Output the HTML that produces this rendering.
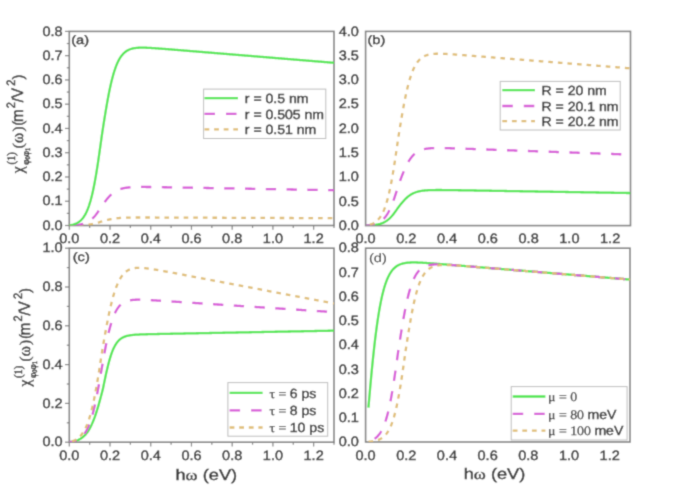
<!DOCTYPE html>
<html><head><meta charset="utf-8"><style>
html,body{margin:0;padding:0;background:#fff;}
svg{display:block;text-rendering:geometricPrecision;}
</style></head><body>
<svg width="685" height="489" viewBox="0 0 685 489">
<defs><filter id="bl" x="0" y="0" width="685" height="489" filterUnits="userSpaceOnUse"><feConvolveMatrix order="3" kernelMatrix="0.02768 0.11101 0.02768 0.11101 0.44521 0.11101 0.02768 0.11101 0.02768" edgeMode="duplicate"/></filter></defs>
<rect width="685" height="489" fill="#fff"/>
<g filter="url(#bl)">
<rect width="685" height="489" fill="#fff"/>
<rect x="69.30" y="31.40" width="264.70" height="194.10" fill="none" stroke="#808080" stroke-width="1.60"/>
<rect x="365.60" y="31.40" width="264.90" height="194.20" fill="none" stroke="#808080" stroke-width="1.60"/>
<rect x="69.30" y="248.20" width="264.70" height="194.00" fill="none" stroke="#808080" stroke-width="1.60"/>
<rect x="365.60" y="248.20" width="264.40" height="193.80" fill="none" stroke="#808080" stroke-width="1.60"/>
<line x1="69.30" y1="225.50" x2="69.30" y2="229.80" stroke="#808080" stroke-width="1.2"/>
<line x1="89.66" y1="225.50" x2="89.66" y2="228.00" stroke="#808080" stroke-width="1.2"/>
<line x1="110.02" y1="225.50" x2="110.02" y2="229.80" stroke="#808080" stroke-width="1.2"/>
<line x1="130.38" y1="225.50" x2="130.38" y2="228.00" stroke="#808080" stroke-width="1.2"/>
<line x1="150.75" y1="225.50" x2="150.75" y2="229.80" stroke="#808080" stroke-width="1.2"/>
<line x1="171.11" y1="225.50" x2="171.11" y2="228.00" stroke="#808080" stroke-width="1.2"/>
<line x1="191.47" y1="225.50" x2="191.47" y2="229.80" stroke="#808080" stroke-width="1.2"/>
<line x1="211.83" y1="225.50" x2="211.83" y2="228.00" stroke="#808080" stroke-width="1.2"/>
<line x1="232.19" y1="225.50" x2="232.19" y2="229.80" stroke="#808080" stroke-width="1.2"/>
<line x1="252.55" y1="225.50" x2="252.55" y2="228.00" stroke="#808080" stroke-width="1.2"/>
<line x1="272.92" y1="225.50" x2="272.92" y2="229.80" stroke="#808080" stroke-width="1.2"/>
<line x1="293.28" y1="225.50" x2="293.28" y2="228.00" stroke="#808080" stroke-width="1.2"/>
<line x1="313.64" y1="225.50" x2="313.64" y2="229.80" stroke="#808080" stroke-width="1.2"/>
<line x1="334.00" y1="225.50" x2="334.00" y2="228.00" stroke="#808080" stroke-width="1.2"/>
<line x1="65.00" y1="225.50" x2="69.30" y2="225.50" stroke="#808080" stroke-width="1.2"/>
<line x1="66.80" y1="213.37" x2="69.30" y2="213.37" stroke="#808080" stroke-width="1.2"/>
<line x1="65.00" y1="201.24" x2="69.30" y2="201.24" stroke="#808080" stroke-width="1.2"/>
<line x1="66.80" y1="189.11" x2="69.30" y2="189.11" stroke="#808080" stroke-width="1.2"/>
<line x1="65.00" y1="176.97" x2="69.30" y2="176.97" stroke="#808080" stroke-width="1.2"/>
<line x1="66.80" y1="164.84" x2="69.30" y2="164.84" stroke="#808080" stroke-width="1.2"/>
<line x1="65.00" y1="152.71" x2="69.30" y2="152.71" stroke="#808080" stroke-width="1.2"/>
<line x1="66.80" y1="140.58" x2="69.30" y2="140.58" stroke="#808080" stroke-width="1.2"/>
<line x1="65.00" y1="128.45" x2="69.30" y2="128.45" stroke="#808080" stroke-width="1.2"/>
<line x1="66.80" y1="116.32" x2="69.30" y2="116.32" stroke="#808080" stroke-width="1.2"/>
<line x1="65.00" y1="104.19" x2="69.30" y2="104.19" stroke="#808080" stroke-width="1.2"/>
<line x1="66.80" y1="92.06" x2="69.30" y2="92.06" stroke="#808080" stroke-width="1.2"/>
<line x1="65.00" y1="79.93" x2="69.30" y2="79.93" stroke="#808080" stroke-width="1.2"/>
<line x1="66.80" y1="67.79" x2="69.30" y2="67.79" stroke="#808080" stroke-width="1.2"/>
<line x1="65.00" y1="55.66" x2="69.30" y2="55.66" stroke="#808080" stroke-width="1.2"/>
<line x1="66.80" y1="43.53" x2="69.30" y2="43.53" stroke="#808080" stroke-width="1.2"/>
<line x1="65.00" y1="31.40" x2="69.30" y2="31.40" stroke="#808080" stroke-width="1.2"/>
<line x1="69.30" y1="442.20" x2="69.30" y2="446.50" stroke="#808080" stroke-width="1.2"/>
<line x1="89.66" y1="442.20" x2="89.66" y2="444.70" stroke="#808080" stroke-width="1.2"/>
<line x1="110.02" y1="442.20" x2="110.02" y2="446.50" stroke="#808080" stroke-width="1.2"/>
<line x1="130.38" y1="442.20" x2="130.38" y2="444.70" stroke="#808080" stroke-width="1.2"/>
<line x1="150.75" y1="442.20" x2="150.75" y2="446.50" stroke="#808080" stroke-width="1.2"/>
<line x1="171.11" y1="442.20" x2="171.11" y2="444.70" stroke="#808080" stroke-width="1.2"/>
<line x1="191.47" y1="442.20" x2="191.47" y2="446.50" stroke="#808080" stroke-width="1.2"/>
<line x1="211.83" y1="442.20" x2="211.83" y2="444.70" stroke="#808080" stroke-width="1.2"/>
<line x1="232.19" y1="442.20" x2="232.19" y2="446.50" stroke="#808080" stroke-width="1.2"/>
<line x1="252.55" y1="442.20" x2="252.55" y2="444.70" stroke="#808080" stroke-width="1.2"/>
<line x1="272.92" y1="442.20" x2="272.92" y2="446.50" stroke="#808080" stroke-width="1.2"/>
<line x1="293.28" y1="442.20" x2="293.28" y2="444.70" stroke="#808080" stroke-width="1.2"/>
<line x1="313.64" y1="442.20" x2="313.64" y2="446.50" stroke="#808080" stroke-width="1.2"/>
<line x1="334.00" y1="442.20" x2="334.00" y2="444.70" stroke="#808080" stroke-width="1.2"/>
<line x1="65.00" y1="442.20" x2="69.30" y2="442.20" stroke="#808080" stroke-width="1.2"/>
<line x1="66.80" y1="422.80" x2="69.30" y2="422.80" stroke="#808080" stroke-width="1.2"/>
<line x1="65.00" y1="403.40" x2="69.30" y2="403.40" stroke="#808080" stroke-width="1.2"/>
<line x1="66.80" y1="384.00" x2="69.30" y2="384.00" stroke="#808080" stroke-width="1.2"/>
<line x1="65.00" y1="364.60" x2="69.30" y2="364.60" stroke="#808080" stroke-width="1.2"/>
<line x1="66.80" y1="345.20" x2="69.30" y2="345.20" stroke="#808080" stroke-width="1.2"/>
<line x1="65.00" y1="325.80" x2="69.30" y2="325.80" stroke="#808080" stroke-width="1.2"/>
<line x1="66.80" y1="306.40" x2="69.30" y2="306.40" stroke="#808080" stroke-width="1.2"/>
<line x1="65.00" y1="287.00" x2="69.30" y2="287.00" stroke="#808080" stroke-width="1.2"/>
<line x1="66.80" y1="267.60" x2="69.30" y2="267.60" stroke="#808080" stroke-width="1.2"/>
<line x1="65.00" y1="248.20" x2="69.30" y2="248.20" stroke="#808080" stroke-width="1.2"/>
<text transform="translate(69.30,243.33) scale(1.075,1)" text-anchor="middle" font-family="Liberation Sans" font-size="13.50" font-weight="normal" fill="#363636" stroke="#363636" stroke-width="0.45">0.0</text>
<text transform="translate(110.02,243.33) scale(1.075,1)" text-anchor="middle" font-family="Liberation Sans" font-size="13.50" font-weight="normal" fill="#363636" stroke="#363636" stroke-width="0.45">0.2</text>
<text transform="translate(150.75,243.33) scale(1.075,1)" text-anchor="middle" font-family="Liberation Sans" font-size="13.50" font-weight="normal" fill="#363636" stroke="#363636" stroke-width="0.45">0.4</text>
<text transform="translate(191.47,243.33) scale(1.075,1)" text-anchor="middle" font-family="Liberation Sans" font-size="13.50" font-weight="normal" fill="#363636" stroke="#363636" stroke-width="0.45">0.6</text>
<text transform="translate(232.19,243.33) scale(1.075,1)" text-anchor="middle" font-family="Liberation Sans" font-size="13.50" font-weight="normal" fill="#363636" stroke="#363636" stroke-width="0.45">0.8</text>
<text transform="translate(272.92,243.33) scale(1.075,1)" text-anchor="middle" font-family="Liberation Sans" font-size="13.50" font-weight="normal" fill="#363636" stroke="#363636" stroke-width="0.45">1.0</text>
<text transform="translate(313.64,243.33) scale(1.075,1)" text-anchor="middle" font-family="Liberation Sans" font-size="13.50" font-weight="normal" fill="#363636" stroke="#363636" stroke-width="0.45">1.2</text>
<text transform="translate(62.60,229.73) scale(1.075,1)" text-anchor="end" font-family="Liberation Sans" font-size="13.50" font-weight="normal" fill="#363636" stroke="#363636" stroke-width="0.45">0.0</text>
<text transform="translate(62.60,205.47) scale(1.075,1)" text-anchor="end" font-family="Liberation Sans" font-size="13.50" font-weight="normal" fill="#363636" stroke="#363636" stroke-width="0.45">0.1</text>
<text transform="translate(62.60,181.21) scale(1.075,1)" text-anchor="end" font-family="Liberation Sans" font-size="13.50" font-weight="normal" fill="#363636" stroke="#363636" stroke-width="0.45">0.2</text>
<text transform="translate(62.60,156.95) scale(1.075,1)" text-anchor="end" font-family="Liberation Sans" font-size="13.50" font-weight="normal" fill="#363636" stroke="#363636" stroke-width="0.45">0.3</text>
<text transform="translate(62.60,132.68) scale(1.075,1)" text-anchor="end" font-family="Liberation Sans" font-size="13.50" font-weight="normal" fill="#363636" stroke="#363636" stroke-width="0.45">0.4</text>
<text transform="translate(62.60,108.42) scale(1.075,1)" text-anchor="end" font-family="Liberation Sans" font-size="13.50" font-weight="normal" fill="#363636" stroke="#363636" stroke-width="0.45">0.5</text>
<text transform="translate(62.60,84.16) scale(1.075,1)" text-anchor="end" font-family="Liberation Sans" font-size="13.50" font-weight="normal" fill="#363636" stroke="#363636" stroke-width="0.45">0.6</text>
<text transform="translate(62.60,59.90) scale(1.075,1)" text-anchor="end" font-family="Liberation Sans" font-size="13.50" font-weight="normal" fill="#363636" stroke="#363636" stroke-width="0.45">0.7</text>
<text transform="translate(62.60,35.63) scale(1.075,1)" text-anchor="end" font-family="Liberation Sans" font-size="13.50" font-weight="normal" fill="#363636" stroke="#363636" stroke-width="0.45">0.8</text>
<text transform="translate(365.60,243.43) scale(1.075,1)" text-anchor="middle" font-family="Liberation Sans" font-size="13.50" font-weight="normal" fill="#363636" stroke="#363636" stroke-width="0.45">0.0</text>
<text transform="translate(406.35,243.43) scale(1.075,1)" text-anchor="middle" font-family="Liberation Sans" font-size="13.50" font-weight="normal" fill="#363636" stroke="#363636" stroke-width="0.45">0.2</text>
<text transform="translate(447.11,243.43) scale(1.075,1)" text-anchor="middle" font-family="Liberation Sans" font-size="13.50" font-weight="normal" fill="#363636" stroke="#363636" stroke-width="0.45">0.4</text>
<text transform="translate(487.86,243.43) scale(1.075,1)" text-anchor="middle" font-family="Liberation Sans" font-size="13.50" font-weight="normal" fill="#363636" stroke="#363636" stroke-width="0.45">0.6</text>
<text transform="translate(528.62,243.43) scale(1.075,1)" text-anchor="middle" font-family="Liberation Sans" font-size="13.50" font-weight="normal" fill="#363636" stroke="#363636" stroke-width="0.45">0.8</text>
<text transform="translate(569.37,243.43) scale(1.075,1)" text-anchor="middle" font-family="Liberation Sans" font-size="13.50" font-weight="normal" fill="#363636" stroke="#363636" stroke-width="0.45">1.0</text>
<text transform="translate(610.12,243.43) scale(1.075,1)" text-anchor="middle" font-family="Liberation Sans" font-size="13.50" font-weight="normal" fill="#363636" stroke="#363636" stroke-width="0.45">1.2</text>
<text transform="translate(358.90,229.83) scale(1.075,1)" text-anchor="end" font-family="Liberation Sans" font-size="13.50" font-weight="normal" fill="#363636" stroke="#363636" stroke-width="0.45">0.0</text>
<text transform="translate(358.90,205.56) scale(1.075,1)" text-anchor="end" font-family="Liberation Sans" font-size="13.50" font-weight="normal" fill="#363636" stroke="#363636" stroke-width="0.45">0.5</text>
<text transform="translate(358.90,181.28) scale(1.075,1)" text-anchor="end" font-family="Liberation Sans" font-size="13.50" font-weight="normal" fill="#363636" stroke="#363636" stroke-width="0.45">1.0</text>
<text transform="translate(358.90,157.01) scale(1.075,1)" text-anchor="end" font-family="Liberation Sans" font-size="13.50" font-weight="normal" fill="#363636" stroke="#363636" stroke-width="0.45">1.5</text>
<text transform="translate(358.90,132.73) scale(1.075,1)" text-anchor="end" font-family="Liberation Sans" font-size="13.50" font-weight="normal" fill="#363636" stroke="#363636" stroke-width="0.45">2.0</text>
<text transform="translate(358.90,108.46) scale(1.075,1)" text-anchor="end" font-family="Liberation Sans" font-size="13.50" font-weight="normal" fill="#363636" stroke="#363636" stroke-width="0.45">2.5</text>
<text transform="translate(358.90,84.18) scale(1.075,1)" text-anchor="end" font-family="Liberation Sans" font-size="13.50" font-weight="normal" fill="#363636" stroke="#363636" stroke-width="0.45">3.0</text>
<text transform="translate(358.90,59.91) scale(1.075,1)" text-anchor="end" font-family="Liberation Sans" font-size="13.50" font-weight="normal" fill="#363636" stroke="#363636" stroke-width="0.45">3.5</text>
<text transform="translate(358.90,35.63) scale(1.075,1)" text-anchor="end" font-family="Liberation Sans" font-size="13.50" font-weight="normal" fill="#363636" stroke="#363636" stroke-width="0.45">4.0</text>
<text transform="translate(69.30,460.03) scale(1.075,1)" text-anchor="middle" font-family="Liberation Sans" font-size="13.50" font-weight="normal" fill="#363636" stroke="#363636" stroke-width="0.45">0.0</text>
<text transform="translate(110.02,460.03) scale(1.075,1)" text-anchor="middle" font-family="Liberation Sans" font-size="13.50" font-weight="normal" fill="#363636" stroke="#363636" stroke-width="0.45">0.2</text>
<text transform="translate(150.75,460.03) scale(1.075,1)" text-anchor="middle" font-family="Liberation Sans" font-size="13.50" font-weight="normal" fill="#363636" stroke="#363636" stroke-width="0.45">0.4</text>
<text transform="translate(191.47,460.03) scale(1.075,1)" text-anchor="middle" font-family="Liberation Sans" font-size="13.50" font-weight="normal" fill="#363636" stroke="#363636" stroke-width="0.45">0.6</text>
<text transform="translate(232.19,460.03) scale(1.075,1)" text-anchor="middle" font-family="Liberation Sans" font-size="13.50" font-weight="normal" fill="#363636" stroke="#363636" stroke-width="0.45">0.8</text>
<text transform="translate(272.92,460.03) scale(1.075,1)" text-anchor="middle" font-family="Liberation Sans" font-size="13.50" font-weight="normal" fill="#363636" stroke="#363636" stroke-width="0.45">1.0</text>
<text transform="translate(313.64,460.03) scale(1.075,1)" text-anchor="middle" font-family="Liberation Sans" font-size="13.50" font-weight="normal" fill="#363636" stroke="#363636" stroke-width="0.45">1.2</text>
<text transform="translate(62.60,446.43) scale(1.075,1)" text-anchor="end" font-family="Liberation Sans" font-size="13.50" font-weight="normal" fill="#363636" stroke="#363636" stroke-width="0.45">0.0</text>
<text transform="translate(62.60,407.63) scale(1.075,1)" text-anchor="end" font-family="Liberation Sans" font-size="13.50" font-weight="normal" fill="#363636" stroke="#363636" stroke-width="0.45">0.2</text>
<text transform="translate(62.60,368.83) scale(1.075,1)" text-anchor="end" font-family="Liberation Sans" font-size="13.50" font-weight="normal" fill="#363636" stroke="#363636" stroke-width="0.45">0.4</text>
<text transform="translate(62.60,330.03) scale(1.075,1)" text-anchor="end" font-family="Liberation Sans" font-size="13.50" font-weight="normal" fill="#363636" stroke="#363636" stroke-width="0.45">0.6</text>
<text transform="translate(62.60,291.23) scale(1.075,1)" text-anchor="end" font-family="Liberation Sans" font-size="13.50" font-weight="normal" fill="#363636" stroke="#363636" stroke-width="0.45">0.8</text>
<text transform="translate(62.60,252.43) scale(1.075,1)" text-anchor="end" font-family="Liberation Sans" font-size="13.50" font-weight="normal" fill="#363636" stroke="#363636" stroke-width="0.45">1.0</text>
<text transform="translate(365.60,459.83) scale(1.075,1)" text-anchor="middle" font-family="Liberation Sans" font-size="13.50" font-weight="normal" fill="#363636" stroke="#363636" stroke-width="0.45">0.0</text>
<text transform="translate(406.28,459.83) scale(1.075,1)" text-anchor="middle" font-family="Liberation Sans" font-size="13.50" font-weight="normal" fill="#363636" stroke="#363636" stroke-width="0.45">0.2</text>
<text transform="translate(446.95,459.83) scale(1.075,1)" text-anchor="middle" font-family="Liberation Sans" font-size="13.50" font-weight="normal" fill="#363636" stroke="#363636" stroke-width="0.45">0.4</text>
<text transform="translate(487.63,459.83) scale(1.075,1)" text-anchor="middle" font-family="Liberation Sans" font-size="13.50" font-weight="normal" fill="#363636" stroke="#363636" stroke-width="0.45">0.6</text>
<text transform="translate(528.31,459.83) scale(1.075,1)" text-anchor="middle" font-family="Liberation Sans" font-size="13.50" font-weight="normal" fill="#363636" stroke="#363636" stroke-width="0.45">0.8</text>
<text transform="translate(568.98,459.83) scale(1.075,1)" text-anchor="middle" font-family="Liberation Sans" font-size="13.50" font-weight="normal" fill="#363636" stroke="#363636" stroke-width="0.45">1.0</text>
<text transform="translate(609.66,459.83) scale(1.075,1)" text-anchor="middle" font-family="Liberation Sans" font-size="13.50" font-weight="normal" fill="#363636" stroke="#363636" stroke-width="0.45">1.2</text>
<text transform="translate(358.90,446.23) scale(1.075,1)" text-anchor="end" font-family="Liberation Sans" font-size="13.50" font-weight="normal" fill="#363636" stroke="#363636" stroke-width="0.45">0.0</text>
<text transform="translate(358.90,422.01) scale(1.075,1)" text-anchor="end" font-family="Liberation Sans" font-size="13.50" font-weight="normal" fill="#363636" stroke="#363636" stroke-width="0.45">0.1</text>
<text transform="translate(358.90,397.78) scale(1.075,1)" text-anchor="end" font-family="Liberation Sans" font-size="13.50" font-weight="normal" fill="#363636" stroke="#363636" stroke-width="0.45">0.2</text>
<text transform="translate(358.90,373.56) scale(1.075,1)" text-anchor="end" font-family="Liberation Sans" font-size="13.50" font-weight="normal" fill="#363636" stroke="#363636" stroke-width="0.45">0.3</text>
<text transform="translate(358.90,349.33) scale(1.075,1)" text-anchor="end" font-family="Liberation Sans" font-size="13.50" font-weight="normal" fill="#363636" stroke="#363636" stroke-width="0.45">0.4</text>
<text transform="translate(358.90,325.11) scale(1.075,1)" text-anchor="end" font-family="Liberation Sans" font-size="13.50" font-weight="normal" fill="#363636" stroke="#363636" stroke-width="0.45">0.5</text>
<text transform="translate(358.90,300.88) scale(1.075,1)" text-anchor="end" font-family="Liberation Sans" font-size="13.50" font-weight="normal" fill="#363636" stroke="#363636" stroke-width="0.45">0.6</text>
<text transform="translate(358.90,276.66) scale(1.075,1)" text-anchor="end" font-family="Liberation Sans" font-size="13.50" font-weight="normal" fill="#363636" stroke="#363636" stroke-width="0.45">0.7</text>
<text transform="translate(358.90,252.43) scale(1.075,1)" text-anchor="end" font-family="Liberation Sans" font-size="13.50" font-weight="normal" fill="#363636" stroke="#363636" stroke-width="0.45">0.8</text>
<text transform="translate(71.20,44.40) scale(1.200,1)" text-anchor="start" font-family="Liberation Sans" font-size="12.20" font-weight="normal" fill="#363636" stroke="#363636" stroke-width="0.45">(a)</text>
<text transform="translate(367.40,44.20) scale(1.200,1)" text-anchor="start" font-family="Liberation Sans" font-size="12.20" font-weight="normal" fill="#363636" stroke="#363636" stroke-width="0.45">(b)</text>
<text transform="translate(72.70,261.00) scale(1.200,1)" text-anchor="start" font-family="Liberation Sans" font-size="12.20" font-weight="normal" fill="#363636" stroke="#363636" stroke-width="0.45">(c)</text>
<text transform="translate(368.90,262.20) scale(1.200,1)" text-anchor="start" font-family="Liberation Sans" font-size="12.20" font-weight="normal" fill="#363636" stroke="#363636" stroke-width="0.12">(d)</text>
<clipPath id="ca"><rect x="69.30" y="29.40" width="264.70" height="196.10"/></clipPath>
<clipPath id="cb"><rect x="365.60" y="29.40" width="264.90" height="196.20"/></clipPath>
<clipPath id="cc"><rect x="69.30" y="246.20" width="264.70" height="196.00"/></clipPath>
<clipPath id="cd"><rect x="365.60" y="246.20" width="264.40" height="195.80"/></clipPath>
<g clip-path="url(#ca)">
<path d="M69.30,225.50L69.96,225.49L70.62,225.49L71.29,225.48L71.95,225.48L72.61,225.47L73.27,225.46L73.93,225.45L74.59,225.44L75.26,225.43L75.92,225.42L76.58,225.40L77.24,225.39L77.90,225.37L78.56,225.35L79.23,225.33L79.89,225.31L80.55,225.28L81.21,225.25L81.87,225.22L82.53,225.19L83.20,225.15L83.86,225.11L84.52,225.06L85.18,225.01L85.84,224.95L86.51,224.89L87.17,224.83L87.83,224.75L88.49,224.68L89.15,224.59L89.81,224.50L90.48,224.40L91.14,224.29L91.80,224.17L92.46,224.05L93.12,223.91L93.78,223.77L94.45,223.62L95.11,223.46L95.77,223.29L96.43,223.11L97.09,222.93L97.76,222.74L98.42,222.54L99.08,222.34L99.74,222.13L100.40,221.91L101.06,221.70L101.73,221.48L102.39,221.29L103.05,221.09L103.71,220.90L104.37,220.72L105.03,220.53L105.70,220.35L106.36,220.18L107.02,220.01L107.68,219.84L108.34,219.68L109.00,219.53L109.67,219.38L110.33,219.25L110.99,219.11L111.65,218.99L112.31,218.87L112.98,218.76L113.64,218.66L114.30,218.56L114.96,218.47L115.62,218.39L116.28,218.31L116.95,218.23L117.61,218.17L118.27,218.10L118.93,218.05L119.59,217.99L120.25,217.95L120.92,217.90L121.58,217.86L122.24,217.82L122.90,217.79L123.56,217.76L124.23,217.73L124.89,217.70L125.55,217.68L126.21,217.66L126.87,217.64L127.53,217.62L128.20,217.61L128.86,217.59L129.52,217.58L130.18,217.57L130.84,217.56L131.50,217.55L132.17,217.54L132.83,217.53L133.49,217.53L134.15,217.52L134.81,217.52L135.47,217.51L136.14,217.51L136.80,217.51L137.46,217.50L138.12,217.50L138.78,217.50L139.45,217.50L140.11,217.50L140.77,217.50L141.43,217.50L142.09,217.50L142.75,217.50L143.42,217.50L144.08,217.50L144.74,217.50L145.40,217.50L146.06,217.50L146.72,217.50L147.39,217.50L148.05,217.50L148.71,217.51L149.37,217.51L150.03,217.51L150.70,217.51L151.36,217.51L152.02,217.51L152.68,217.52L153.34,217.52L154.00,217.52L154.67,217.52L155.33,217.52L155.99,217.53L156.65,217.53L157.31,217.53L157.97,217.53L158.64,217.53L159.30,217.54L159.96,217.54L160.62,217.54L161.28,217.54L161.94,217.55L162.61,217.55L163.27,217.55L163.93,217.55L164.59,217.55L165.25,217.56L165.92,217.56L166.58,217.56L167.24,217.56L167.90,217.57L168.56,217.57L169.22,217.57L169.89,217.57L170.55,217.58L171.21,217.58L171.87,217.58L172.53,217.58L173.19,217.59L173.86,217.59L174.52,217.59L175.18,217.59L175.84,217.60L176.50,217.60L177.17,217.60L177.83,217.60L178.49,217.61L179.15,217.61L179.81,217.61L180.47,217.61L181.14,217.61L181.80,217.62L182.46,217.62L183.12,217.62L183.78,217.62L184.44,217.63L185.11,217.63L185.77,217.63L186.43,217.63L187.09,217.64L187.75,217.64L188.41,217.64L189.08,217.64L189.74,217.65L190.40,217.65L191.06,217.65L191.72,217.65L192.39,217.66L193.05,217.66L193.71,217.66L194.37,217.66L195.03,217.67L195.69,217.67L196.36,217.67L197.02,217.67L197.68,217.68L198.34,217.68L199.00,217.68L199.66,217.68L200.33,217.69L200.99,217.69L201.65,217.69L202.31,217.69L202.97,217.70L203.64,217.70L204.30,217.70L204.96,217.70L205.62,217.71L206.28,217.71L206.94,217.71L207.61,217.71L208.27,217.71L208.93,217.72L209.59,217.72L210.25,217.72L210.91,217.72L211.58,217.73L212.24,217.73L212.90,217.73L213.56,217.73L214.22,217.74L214.88,217.74L215.55,217.74L216.21,217.74L216.87,217.75L217.53,217.75L218.19,217.75L218.86,217.75L219.52,217.76L220.18,217.76L220.84,217.76L221.50,217.76L222.16,217.77L222.83,217.77L223.49,217.77L224.15,217.77L224.81,217.78L225.47,217.78L226.13,217.78L226.80,217.78L227.46,217.79L228.12,217.79L228.78,217.79L229.44,217.79L230.11,217.80L230.77,217.80L231.43,217.80L232.09,217.80L232.75,217.81L233.41,217.81L234.08,217.81L234.74,217.81L235.40,217.81L236.06,217.82L236.72,217.82L237.38,217.82L238.05,217.82L238.71,217.83L239.37,217.83L240.03,217.83L240.69,217.83L241.35,217.84L242.02,217.84L242.68,217.84L243.34,217.84L244.00,217.85L244.66,217.85L245.33,217.85L245.99,217.85L246.65,217.86L247.31,217.86L247.97,217.86L248.63,217.86L249.30,217.87L249.96,217.87L250.62,217.87L251.28,217.87L251.94,217.88L252.60,217.88L253.27,217.88L253.93,217.88L254.59,217.89L255.25,217.89L255.91,217.89L256.58,217.89L257.24,217.90L257.90,217.90L258.56,217.90L259.22,217.90L259.88,217.91L260.55,217.91L261.21,217.91L261.87,217.91L262.53,217.92L263.19,217.92L263.85,217.92L264.52,217.92L265.18,217.92L265.84,217.93L266.50,217.93L267.16,217.93L267.82,217.93L268.49,217.94L269.15,217.94L269.81,217.94L270.47,217.94L271.13,217.95L271.80,217.95L272.46,217.95L273.12,217.95L273.78,217.96L274.44,217.96L275.10,217.96L275.77,217.96L276.43,217.97L277.09,217.97L277.75,217.97L278.41,217.97L279.07,217.98L279.74,217.98L280.40,217.98L281.06,217.98L281.72,217.99L282.38,217.99L283.05,217.99L283.71,217.99L284.37,218.00L285.03,218.00L285.69,218.00L286.35,218.00L287.02,218.01L287.68,218.01L288.34,218.01L289.00,218.01L289.66,218.02L290.32,218.02L290.99,218.02L291.65,218.02L292.31,218.02L292.97,218.03L293.63,218.03L294.29,218.03L294.96,218.03L295.62,218.04L296.28,218.04L296.94,218.04L297.60,218.04L298.27,218.05L298.93,218.05L299.59,218.05L300.25,218.05L300.91,218.06L301.57,218.06L302.24,218.06L302.90,218.06L303.56,218.07L304.22,218.07L304.88,218.07L305.54,218.07L306.21,218.08L306.87,218.08L307.53,218.08L308.19,218.08L308.85,218.09L309.52,218.09L310.18,218.09L310.84,218.09L311.50,218.10L312.16,218.10L312.82,218.10L313.49,218.10L314.15,218.11L314.81,218.11L315.47,218.11L316.13,218.11L316.79,218.12L317.46,218.12L318.12,218.12L318.78,218.12L319.44,218.13L320.10,218.13L320.76,218.13L321.43,218.13L322.09,218.13L322.75,218.14L323.41,218.14L324.07,218.14L324.74,218.14L325.40,218.15L326.06,218.15L326.72,218.15L327.38,218.15L328.04,218.16L328.71,218.16L329.37,218.16L330.03,218.16L330.69,218.17L331.35,218.17L332.01,218.17L332.68,218.17L333.34,218.18L334.00,218.18" fill="none" stroke="#dfbd74" stroke-width="2.30" stroke-dasharray="4.6,5.0" stroke-dashoffset="0.00" stroke-linejoin="round"/>
<path d="M69.30,225.50L69.96,225.48L70.62,225.45L71.29,225.42L71.95,225.39L72.61,225.35L73.27,225.31L73.93,225.26L74.59,225.21L75.26,225.16L75.92,225.10L76.58,225.03L77.24,224.95L77.90,224.87L78.56,224.78L79.23,224.68L79.89,224.56L80.55,224.44L81.21,224.30L81.87,224.15L82.53,223.99L83.20,223.80L83.86,223.60L84.52,223.38L85.18,223.14L85.84,222.87L86.51,222.58L87.17,222.26L87.83,221.91L88.49,221.53L89.15,221.12L89.81,220.67L90.48,220.19L91.14,219.66L91.80,219.10L92.46,218.50L93.12,217.86L93.78,217.17L94.45,216.44L95.11,215.67L95.77,214.86L96.43,214.01L97.09,213.12L97.76,212.20L98.42,211.24L99.08,210.26L99.74,209.25L100.40,208.23L101.06,207.20L101.73,206.16L102.39,205.21L103.05,204.28L103.71,203.37L104.37,202.47L105.03,201.58L105.70,200.71L106.36,199.86L107.02,199.04L107.68,198.25L108.34,197.48L109.00,196.75L109.67,196.05L110.33,195.38L110.99,194.75L111.65,194.15L112.31,193.58L112.98,193.05L113.64,192.55L114.30,192.08L114.96,191.64L115.62,191.24L116.28,190.86L116.95,190.51L117.61,190.19L118.27,189.89L118.93,189.61L119.59,189.36L120.25,189.12L120.92,188.91L121.58,188.71L122.24,188.53L122.90,188.37L123.56,188.22L124.23,188.08L124.89,187.96L125.55,187.84L126.21,187.74L126.87,187.65L127.53,187.57L128.20,187.49L128.86,187.42L129.52,187.36L130.18,187.31L130.84,187.26L131.50,187.21L132.17,187.18L132.83,187.14L133.49,187.11L134.15,187.08L134.81,187.06L135.47,187.04L136.14,187.02L136.80,187.01L137.46,187.00L138.12,186.99L138.78,186.98L139.45,186.97L140.11,186.97L140.77,186.96L141.43,186.96L142.09,186.96L142.75,186.96L143.42,186.96L144.08,186.97L144.74,186.97L145.40,186.97L146.06,186.98L146.72,186.98L147.39,186.99L148.05,186.99L148.71,187.00L149.37,187.01L150.03,187.02L150.70,187.02L151.36,187.03L152.02,187.04L152.68,187.05L153.34,187.06L154.00,187.07L154.67,187.08L155.33,187.09L155.99,187.10L156.65,187.11L157.31,187.12L157.97,187.13L158.64,187.14L159.30,187.15L159.96,187.16L160.62,187.17L161.28,187.18L161.94,187.19L162.61,187.21L163.27,187.22L163.93,187.23L164.59,187.24L165.25,187.25L165.92,187.26L166.58,187.27L167.24,187.29L167.90,187.30L168.56,187.31L169.22,187.32L169.89,187.33L170.55,187.34L171.21,187.35L171.87,187.37L172.53,187.38L173.19,187.39L173.86,187.40L174.52,187.41L175.18,187.42L175.84,187.44L176.50,187.45L177.17,187.46L177.83,187.47L178.49,187.48L179.15,187.49L179.81,187.51L180.47,187.52L181.14,187.53L181.80,187.54L182.46,187.55L183.12,187.56L183.78,187.58L184.44,187.59L185.11,187.60L185.77,187.61L186.43,187.62L187.09,187.63L187.75,187.65L188.41,187.66L189.08,187.67L189.74,187.68L190.40,187.69L191.06,187.70L191.72,187.72L192.39,187.73L193.05,187.74L193.71,187.75L194.37,187.76L195.03,187.78L195.69,187.79L196.36,187.80L197.02,187.81L197.68,187.82L198.34,187.83L199.00,187.85L199.66,187.86L200.33,187.87L200.99,187.88L201.65,187.89L202.31,187.90L202.97,187.92L203.64,187.93L204.30,187.94L204.96,187.95L205.62,187.96L206.28,187.98L206.94,187.99L207.61,188.00L208.27,188.01L208.93,188.02L209.59,188.03L210.25,188.05L210.91,188.06L211.58,188.07L212.24,188.08L212.90,188.09L213.56,188.10L214.22,188.12L214.88,188.13L215.55,188.14L216.21,188.15L216.87,188.16L217.53,188.17L218.19,188.19L218.86,188.20L219.52,188.21L220.18,188.22L220.84,188.23L221.50,188.25L222.16,188.26L222.83,188.27L223.49,188.28L224.15,188.29L224.81,188.30L225.47,188.32L226.13,188.33L226.80,188.34L227.46,188.35L228.12,188.36L228.78,188.37L229.44,188.39L230.11,188.40L230.77,188.41L231.43,188.42L232.09,188.43L232.75,188.45L233.41,188.46L234.08,188.47L234.74,188.48L235.40,188.49L236.06,188.50L236.72,188.52L237.38,188.53L238.05,188.54L238.71,188.55L239.37,188.56L240.03,188.57L240.69,188.59L241.35,188.60L242.02,188.61L242.68,188.62L243.34,188.63L244.00,188.65L244.66,188.66L245.33,188.67L245.99,188.68L246.65,188.69L247.31,188.70L247.97,188.72L248.63,188.73L249.30,188.74L249.96,188.75L250.62,188.76L251.28,188.77L251.94,188.79L252.60,188.80L253.27,188.81L253.93,188.82L254.59,188.83L255.25,188.85L255.91,188.86L256.58,188.87L257.24,188.88L257.90,188.89L258.56,188.90L259.22,188.92L259.88,188.93L260.55,188.94L261.21,188.95L261.87,188.96L262.53,188.97L263.19,188.99L263.85,189.00L264.52,189.01L265.18,189.02L265.84,189.03L266.50,189.04L267.16,189.06L267.82,189.07L268.49,189.08L269.15,189.09L269.81,189.10L270.47,189.12L271.13,189.13L271.80,189.14L272.46,189.15L273.12,189.16L273.78,189.17L274.44,189.19L275.10,189.20L275.77,189.21L276.43,189.22L277.09,189.23L277.75,189.24L278.41,189.26L279.07,189.27L279.74,189.28L280.40,189.29L281.06,189.30L281.72,189.32L282.38,189.33L283.05,189.34L283.71,189.35L284.37,189.36L285.03,189.37L285.69,189.39L286.35,189.40L287.02,189.41L287.68,189.42L288.34,189.43L289.00,189.44L289.66,189.46L290.32,189.47L290.99,189.48L291.65,189.49L292.31,189.50L292.97,189.52L293.63,189.53L294.29,189.54L294.96,189.55L295.62,189.56L296.28,189.57L296.94,189.59L297.60,189.60L298.27,189.61L298.93,189.62L299.59,189.63L300.25,189.64L300.91,189.66L301.57,189.67L302.24,189.68L302.90,189.69L303.56,189.70L304.22,189.72L304.88,189.73L305.54,189.74L306.21,189.75L306.87,189.76L307.53,189.77L308.19,189.79L308.85,189.80L309.52,189.81L310.18,189.82L310.84,189.83L311.50,189.84L312.16,189.86L312.82,189.87L313.49,189.88L314.15,189.89L314.81,189.90L315.47,189.91L316.13,189.93L316.79,189.94L317.46,189.95L318.12,189.96L318.78,189.97L319.44,189.99L320.10,190.00L320.76,190.01L321.43,190.02L322.09,190.03L322.75,190.04L323.41,190.06L324.07,190.07L324.74,190.08L325.40,190.09L326.06,190.10L326.72,190.11L327.38,190.13L328.04,190.14L328.71,190.15L329.37,190.16L330.03,190.17L330.69,190.19L331.35,190.20L332.01,190.21L332.68,190.22L333.34,190.23L334.00,190.24" fill="none" stroke="#d858d8" stroke-width="2.30" stroke-dasharray="10.3,10.5" stroke-dashoffset="-3.70" stroke-linejoin="round"/>
<path d="M69.30,225.50L69.96,225.39L70.62,225.26L71.29,225.13L71.95,224.97L72.61,224.81L73.27,224.62L73.93,224.41L74.59,224.18L75.26,223.93L75.92,223.64L76.58,223.33L77.24,222.98L77.90,222.60L78.56,222.17L79.23,221.70L79.89,221.18L80.55,220.61L81.21,219.98L81.87,219.28L82.53,218.51L83.20,217.67L83.86,216.73L84.52,215.71L85.18,214.59L85.84,213.35L86.51,212.01L87.17,210.53L87.83,208.93L88.49,207.18L89.15,205.27L89.81,203.21L90.48,200.98L91.14,198.57L91.80,195.98L92.46,193.20L93.12,190.23L93.78,187.06L94.45,183.70L95.11,180.14L95.77,176.39L96.43,172.46L97.09,168.36L97.76,164.10L98.42,159.70L99.08,155.17L99.74,150.53L100.40,145.82L101.06,141.05L101.73,136.24L102.39,131.85L103.05,127.59L103.71,123.37L104.37,119.20L105.03,115.11L105.70,111.10L106.36,107.19L107.02,103.40L107.68,99.74L108.34,96.21L109.00,92.82L109.67,89.59L110.33,86.51L110.99,83.58L111.65,80.81L112.31,78.20L112.98,75.74L113.64,73.44L114.30,71.28L114.96,69.27L115.62,67.39L116.28,65.65L116.95,64.03L117.61,62.53L118.27,61.15L118.93,59.88L119.59,58.70L120.25,57.63L120.92,56.64L121.58,55.73L122.24,54.90L122.90,54.14L123.56,53.45L124.23,52.82L124.89,52.25L125.55,51.73L126.21,51.26L126.87,50.83L127.53,50.44L128.20,50.10L128.86,49.78L129.52,49.50L130.18,49.25L130.84,49.02L131.50,48.82L132.17,48.64L132.83,48.49L133.49,48.35L134.15,48.22L134.81,48.12L135.47,48.02L136.14,47.94L136.80,47.88L137.46,47.82L138.12,47.77L138.78,47.74L139.45,47.71L140.11,47.68L140.77,47.67L141.43,47.66L142.09,47.66L142.75,47.66L143.42,47.66L144.08,47.68L144.74,47.69L145.40,47.71L146.06,47.73L146.72,47.75L147.39,47.78L148.05,47.81L148.71,47.84L149.37,47.88L150.03,47.91L150.70,47.95L151.36,47.99L152.02,48.03L152.68,48.07L153.34,48.11L154.00,48.16L154.67,48.20L155.33,48.25L155.99,48.29L156.65,48.34L157.31,48.39L157.97,48.44L158.64,48.48L159.30,48.53L159.96,48.58L160.62,48.63L161.28,48.68L161.94,48.73L162.61,48.79L163.27,48.84L163.93,48.89L164.59,48.94L165.25,48.99L165.92,49.05L166.58,49.10L167.24,49.15L167.90,49.20L168.56,49.26L169.22,49.31L169.89,49.36L170.55,49.42L171.21,49.47L171.87,49.52L172.53,49.58L173.19,49.63L173.86,49.68L174.52,49.74L175.18,49.79L175.84,49.84L176.50,49.90L177.17,49.95L177.83,50.01L178.49,50.06L179.15,50.11L179.81,50.17L180.47,50.22L181.14,50.28L181.80,50.33L182.46,50.38L183.12,50.44L183.78,50.49L184.44,50.55L185.11,50.60L185.77,50.65L186.43,50.71L187.09,50.76L187.75,50.82L188.41,50.87L189.08,50.93L189.74,50.98L190.40,51.03L191.06,51.09L191.72,51.14L192.39,51.20L193.05,51.25L193.71,51.30L194.37,51.36L195.03,51.41L195.69,51.47L196.36,51.52L197.02,51.58L197.68,51.63L198.34,51.68L199.00,51.74L199.66,51.79L200.33,51.85L200.99,51.90L201.65,51.96L202.31,52.01L202.97,52.06L203.64,52.12L204.30,52.17L204.96,52.23L205.62,52.28L206.28,52.34L206.94,52.39L207.61,52.44L208.27,52.50L208.93,52.55L209.59,52.61L210.25,52.66L210.91,52.71L211.58,52.77L212.24,52.82L212.90,52.88L213.56,52.93L214.22,52.99L214.88,53.04L215.55,53.09L216.21,53.15L216.87,53.20L217.53,53.26L218.19,53.31L218.86,53.37L219.52,53.42L220.18,53.47L220.84,53.53L221.50,53.58L222.16,53.64L222.83,53.69L223.49,53.75L224.15,53.80L224.81,53.85L225.47,53.91L226.13,53.96L226.80,54.02L227.46,54.07L228.12,54.13L228.78,54.18L229.44,54.23L230.11,54.29L230.77,54.34L231.43,54.40L232.09,54.45L232.75,54.50L233.41,54.56L234.08,54.61L234.74,54.67L235.40,54.72L236.06,54.78L236.72,54.83L237.38,54.88L238.05,54.94L238.71,54.99L239.37,55.05L240.03,55.10L240.69,55.16L241.35,55.21L242.02,55.26L242.68,55.32L243.34,55.37L244.00,55.43L244.66,55.48L245.33,55.54L245.99,55.59L246.65,55.64L247.31,55.70L247.97,55.75L248.63,55.81L249.30,55.86L249.96,55.92L250.62,55.97L251.28,56.02L251.94,56.08L252.60,56.13L253.27,56.19L253.93,56.24L254.59,56.30L255.25,56.35L255.91,56.40L256.58,56.46L257.24,56.51L257.90,56.57L258.56,56.62L259.22,56.68L259.88,56.73L260.55,56.78L261.21,56.84L261.87,56.89L262.53,56.95L263.19,57.00L263.85,57.05L264.52,57.11L265.18,57.16L265.84,57.22L266.50,57.27L267.16,57.33L267.82,57.38L268.49,57.43L269.15,57.49L269.81,57.54L270.47,57.60L271.13,57.65L271.80,57.71L272.46,57.76L273.12,57.81L273.78,57.87L274.44,57.92L275.10,57.98L275.77,58.03L276.43,58.09L277.09,58.14L277.75,58.19L278.41,58.25L279.07,58.30L279.74,58.36L280.40,58.41L281.06,58.47L281.72,58.52L282.38,58.57L283.05,58.63L283.71,58.68L284.37,58.74L285.03,58.79L285.69,58.85L286.35,58.90L287.02,58.95L287.68,59.01L288.34,59.06L289.00,59.12L289.66,59.17L290.32,59.22L290.99,59.28L291.65,59.33L292.31,59.39L292.97,59.44L293.63,59.50L294.29,59.55L294.96,59.60L295.62,59.66L296.28,59.71L296.94,59.77L297.60,59.82L298.27,59.88L298.93,59.93L299.59,59.98L300.25,60.04L300.91,60.09L301.57,60.15L302.24,60.20L302.90,60.26L303.56,60.31L304.22,60.36L304.88,60.42L305.54,60.47L306.21,60.53L306.87,60.58L307.53,60.64L308.19,60.69L308.85,60.74L309.52,60.80L310.18,60.85L310.84,60.91L311.50,60.96L312.16,61.02L312.82,61.07L313.49,61.12L314.15,61.18L314.81,61.23L315.47,61.29L316.13,61.34L316.79,61.39L317.46,61.45L318.12,61.50L318.78,61.56L319.44,61.61L320.10,61.67L320.76,61.72L321.43,61.77L322.09,61.83L322.75,61.88L323.41,61.94L324.07,61.99L324.74,62.05L325.40,62.10L326.06,62.15L326.72,62.21L327.38,62.26L328.04,62.32L328.71,62.37L329.37,62.43L330.03,62.48L330.69,62.53L331.35,62.59L332.01,62.64L332.68,62.70L333.34,62.75L334.00,62.81" fill="none" stroke="#4ee64e" stroke-width="2.30" stroke-linejoin="round"/>
</g>
<g clip-path="url(#cb)">
<path d="M365.60,225.60L366.26,225.58L366.92,225.55L367.59,225.53L368.25,225.49L368.91,225.46L369.57,225.42L370.24,225.38L370.90,225.34L371.56,225.28L372.22,225.23L372.88,225.17L373.55,225.10L374.21,225.02L374.87,224.93L375.53,224.84L376.20,224.74L376.86,224.62L377.52,224.50L378.18,224.36L378.85,224.20L379.51,224.03L380.17,223.85L380.83,223.64L381.49,223.42L382.16,223.17L382.82,222.90L383.48,222.61L384.14,222.28L384.81,221.93L385.47,221.55L386.13,221.14L386.79,220.69L387.45,220.21L388.12,219.69L388.78,219.14L389.44,218.54L390.10,217.91L390.77,217.23L391.43,216.52L392.09,215.77L392.75,214.99L393.41,214.17L394.08,213.31L394.74,212.43L395.40,211.53L396.06,210.60L396.73,209.66L397.39,208.70L398.05,207.74L398.71,206.86L399.37,206.01L400.04,205.16L400.70,204.33L401.36,203.51L402.02,202.71L402.69,201.93L403.35,201.17L404.01,200.43L404.67,199.73L405.34,199.05L406.00,198.40L406.66,197.79L407.32,197.20L407.98,196.65L408.65,196.13L409.31,195.63L409.97,195.17L410.63,194.74L411.30,194.34L411.96,193.96L412.62,193.61L413.28,193.29L413.94,192.99L414.61,192.71L415.27,192.46L415.93,192.22L416.59,192.01L417.26,191.81L417.92,191.63L418.58,191.46L419.24,191.31L419.90,191.17L420.57,191.05L421.23,190.93L421.89,190.83L422.55,190.73L423.22,190.65L423.88,190.57L424.54,190.50L425.20,190.44L425.86,190.38L426.53,190.33L427.19,190.29L427.85,190.25L428.51,190.21L429.18,190.18L429.84,190.15L430.50,190.13L431.16,190.11L431.83,190.09L432.49,190.07L433.15,190.06L433.81,190.05L434.47,190.04L435.14,190.03L435.80,190.02L436.46,190.02L437.12,190.02L437.79,190.01L438.45,190.01L439.11,190.01L439.77,190.01L440.43,190.02L441.10,190.02L441.76,190.02L442.42,190.03L443.08,190.03L443.75,190.04L444.41,190.04L445.07,190.05L445.73,190.06L446.39,190.06L447.06,190.07L447.72,190.08L448.38,190.09L449.04,190.10L449.71,190.10L450.37,190.11L451.03,190.12L451.69,190.13L452.35,190.14L453.02,190.15L453.68,190.16L454.34,190.17L455.00,190.18L455.67,190.19L456.33,190.20L456.99,190.21L457.65,190.22L458.31,190.23L458.98,190.24L459.64,190.25L460.30,190.26L460.96,190.27L461.63,190.28L462.29,190.29L462.95,190.30L463.61,190.31L464.28,190.32L464.94,190.33L465.60,190.34L466.26,190.35L466.92,190.36L467.59,190.38L468.25,190.39L468.91,190.40L469.57,190.41L470.24,190.42L470.90,190.43L471.56,190.44L472.22,190.45L472.88,190.46L473.55,190.47L474.21,190.48L474.87,190.49L475.53,190.50L476.20,190.52L476.86,190.53L477.52,190.54L478.18,190.55L478.84,190.56L479.51,190.57L480.17,190.58L480.83,190.59L481.49,190.60L482.16,190.61L482.82,190.62L483.48,190.63L484.14,190.65L484.81,190.66L485.47,190.67L486.13,190.68L486.79,190.69L487.45,190.70L488.12,190.71L488.78,190.72L489.44,190.73L490.10,190.74L490.77,190.75L491.43,190.76L492.09,190.78L492.75,190.79L493.41,190.80L494.08,190.81L494.74,190.82L495.40,190.83L496.06,190.84L496.73,190.85L497.39,190.86L498.05,190.87L498.71,190.88L499.37,190.89L500.04,190.91L500.70,190.92L501.36,190.93L502.02,190.94L502.69,190.95L503.35,190.96L504.01,190.97L504.67,190.98L505.33,190.99L506.00,191.00L506.66,191.01L507.32,191.03L507.98,191.04L508.65,191.05L509.31,191.06L509.97,191.07L510.63,191.08L511.30,191.09L511.96,191.10L512.62,191.11L513.28,191.12L513.94,191.13L514.61,191.14L515.27,191.16L515.93,191.17L516.59,191.18L517.26,191.19L517.92,191.20L518.58,191.21L519.24,191.22L519.90,191.23L520.57,191.24L521.23,191.25L521.89,191.26L522.55,191.27L523.22,191.29L523.88,191.30L524.54,191.31L525.20,191.32L525.86,191.33L526.53,191.34L527.19,191.35L527.85,191.36L528.51,191.37L529.18,191.38L529.84,191.39L530.50,191.41L531.16,191.42L531.82,191.43L532.49,191.44L533.15,191.45L533.81,191.46L534.47,191.47L535.14,191.48L535.80,191.49L536.46,191.50L537.12,191.51L537.78,191.52L538.45,191.54L539.11,191.55L539.77,191.56L540.43,191.57L541.10,191.58L541.76,191.59L542.42,191.60L543.08,191.61L543.75,191.62L544.41,191.63L545.07,191.64L545.73,191.65L546.39,191.67L547.06,191.68L547.72,191.69L548.38,191.70L549.04,191.71L549.71,191.72L550.37,191.73L551.03,191.74L551.69,191.75L552.35,191.76L553.02,191.77L553.68,191.79L554.34,191.80L555.00,191.81L555.67,191.82L556.33,191.83L556.99,191.84L557.65,191.85L558.31,191.86L558.98,191.87L559.64,191.88L560.30,191.89L560.96,191.90L561.63,191.92L562.29,191.93L562.95,191.94L563.61,191.95L564.27,191.96L564.94,191.97L565.60,191.98L566.26,191.99L566.92,192.00L567.59,192.01L568.25,192.02L568.91,192.03L569.57,192.05L570.24,192.06L570.90,192.07L571.56,192.08L572.22,192.09L572.88,192.10L573.55,192.11L574.21,192.12L574.87,192.13L575.53,192.14L576.20,192.15L576.86,192.16L577.52,192.18L578.18,192.19L578.84,192.20L579.51,192.21L580.17,192.22L580.83,192.23L581.49,192.24L582.16,192.25L582.82,192.26L583.48,192.27L584.14,192.28L584.80,192.30L585.47,192.31L586.13,192.32L586.79,192.33L587.45,192.34L588.12,192.35L588.78,192.36L589.44,192.37L590.10,192.38L590.76,192.39L591.43,192.40L592.09,192.41L592.75,192.43L593.41,192.44L594.08,192.45L594.74,192.46L595.40,192.47L596.06,192.48L596.73,192.49L597.39,192.50L598.05,192.51L598.71,192.52L599.37,192.53L600.04,192.54L600.70,192.56L601.36,192.57L602.02,192.58L602.69,192.59L603.35,192.60L604.01,192.61L604.67,192.62L605.33,192.63L606.00,192.64L606.66,192.65L607.32,192.66L607.98,192.68L608.65,192.69L609.31,192.70L609.97,192.71L610.63,192.72L611.29,192.73L611.96,192.74L612.62,192.75L613.28,192.76L613.94,192.77L614.61,192.78L615.27,192.79L615.93,192.81L616.59,192.82L617.25,192.83L617.92,192.84L618.58,192.85L619.24,192.86L619.90,192.87L620.57,192.88L621.23,192.89L621.89,192.90L622.55,192.91L623.22,192.92L623.88,192.94L624.54,192.95L625.20,192.96L625.86,192.97L626.53,192.98L627.19,192.99L627.85,193.00L628.51,193.01L629.18,193.02L629.84,193.03L630.50,193.04" fill="none" stroke="#4ee64e" stroke-width="2.30" stroke-linejoin="round"/>
<path d="M365.60,225.60L366.26,225.55L366.92,225.50L367.59,225.44L368.25,225.37L368.91,225.30L369.57,225.22L370.24,225.12L370.90,225.02L371.56,224.91L372.22,224.79L372.88,224.65L373.55,224.50L374.21,224.33L374.87,224.15L375.53,223.94L376.20,223.72L376.86,223.47L377.52,223.19L378.18,222.89L378.85,222.55L379.51,222.18L380.17,221.78L380.83,221.33L381.49,220.84L382.16,220.30L382.82,219.71L383.48,219.07L384.14,218.37L384.81,217.61L385.47,216.78L386.13,215.88L386.79,214.90L387.45,213.85L388.12,212.72L388.78,211.51L389.44,210.21L390.10,208.83L390.77,207.36L391.43,205.81L392.09,204.18L392.75,202.46L393.41,200.68L394.08,198.82L394.74,196.90L395.40,194.92L396.06,192.90L396.73,190.84L397.39,188.76L398.05,186.66L398.71,184.75L399.37,182.89L400.04,181.05L400.70,179.23L401.36,177.44L402.02,175.70L402.69,173.99L403.35,172.34L404.01,170.74L404.67,169.20L405.34,167.72L406.00,166.31L406.66,164.97L407.32,163.69L407.98,162.48L408.65,161.34L409.31,160.27L409.97,159.27L410.63,158.33L411.30,157.45L411.96,156.63L412.62,155.87L413.28,155.16L413.94,154.51L414.61,153.91L415.27,153.35L415.93,152.84L416.59,152.37L417.26,151.94L417.92,151.54L418.58,151.18L419.24,150.85L419.90,150.55L420.57,150.27L421.23,150.02L421.89,149.80L422.55,149.59L423.22,149.40L423.88,149.24L424.54,149.08L425.20,148.95L425.86,148.83L426.53,148.72L427.19,148.62L427.85,148.53L428.51,148.45L429.18,148.38L429.84,148.32L430.50,148.27L431.16,148.22L431.83,148.18L432.49,148.15L433.15,148.12L433.81,148.09L434.47,148.07L435.14,148.05L435.80,148.04L436.46,148.03L437.12,148.03L437.79,148.02L438.45,148.02L439.11,148.02L439.77,148.02L440.43,148.03L441.10,148.03L441.76,148.04L442.42,148.05L443.08,148.06L443.75,148.07L444.41,148.09L445.07,148.10L445.73,148.12L446.39,148.13L447.06,148.15L447.72,148.16L448.38,148.18L449.04,148.20L449.71,148.22L450.37,148.24L451.03,148.26L451.69,148.28L452.35,148.30L453.02,148.32L453.68,148.34L454.34,148.36L455.00,148.38L455.67,148.40L456.33,148.42L456.99,148.45L457.65,148.47L458.31,148.49L458.98,148.51L459.64,148.54L460.30,148.56L460.96,148.58L461.63,148.60L462.29,148.63L462.95,148.65L463.61,148.67L464.28,148.69L464.94,148.72L465.60,148.74L466.26,148.76L466.92,148.79L467.59,148.81L468.25,148.83L468.91,148.86L469.57,148.88L470.24,148.90L470.90,148.93L471.56,148.95L472.22,148.97L472.88,149.00L473.55,149.02L474.21,149.05L474.87,149.07L475.53,149.09L476.20,149.12L476.86,149.14L477.52,149.16L478.18,149.19L478.84,149.21L479.51,149.23L480.17,149.26L480.83,149.28L481.49,149.30L482.16,149.33L482.82,149.35L483.48,149.38L484.14,149.40L484.81,149.42L485.47,149.45L486.13,149.47L486.79,149.49L487.45,149.52L488.12,149.54L488.78,149.56L489.44,149.59L490.10,149.61L490.77,149.64L491.43,149.66L492.09,149.68L492.75,149.71L493.41,149.73L494.08,149.75L494.74,149.78L495.40,149.80L496.06,149.82L496.73,149.85L497.39,149.87L498.05,149.90L498.71,149.92L499.37,149.94L500.04,149.97L500.70,149.99L501.36,150.01L502.02,150.04L502.69,150.06L503.35,150.08L504.01,150.11L504.67,150.13L505.33,150.16L506.00,150.18L506.66,150.20L507.32,150.23L507.98,150.25L508.65,150.27L509.31,150.30L509.97,150.32L510.63,150.35L511.30,150.37L511.96,150.39L512.62,150.42L513.28,150.44L513.94,150.46L514.61,150.49L515.27,150.51L515.93,150.53L516.59,150.56L517.26,150.58L517.92,150.61L518.58,150.63L519.24,150.65L519.90,150.68L520.57,150.70L521.23,150.72L521.89,150.75L522.55,150.77L523.22,150.79L523.88,150.82L524.54,150.84L525.20,150.87L525.86,150.89L526.53,150.91L527.19,150.94L527.85,150.96L528.51,150.98L529.18,151.01L529.84,151.03L530.50,151.06L531.16,151.08L531.82,151.10L532.49,151.13L533.15,151.15L533.81,151.17L534.47,151.20L535.14,151.22L535.80,151.24L536.46,151.27L537.12,151.29L537.78,151.32L538.45,151.34L539.11,151.36L539.77,151.39L540.43,151.41L541.10,151.43L541.76,151.46L542.42,151.48L543.08,151.50L543.75,151.53L544.41,151.55L545.07,151.58L545.73,151.60L546.39,151.62L547.06,151.65L547.72,151.67L548.38,151.69L549.04,151.72L549.71,151.74L550.37,151.77L551.03,151.79L551.69,151.81L552.35,151.84L553.02,151.86L553.68,151.88L554.34,151.91L555.00,151.93L555.67,151.95L556.33,151.98L556.99,152.00L557.65,152.03L558.31,152.05L558.98,152.07L559.64,152.10L560.30,152.12L560.96,152.14L561.63,152.17L562.29,152.19L562.95,152.21L563.61,152.24L564.27,152.26L564.94,152.29L565.60,152.31L566.26,152.33L566.92,152.36L567.59,152.38L568.25,152.40L568.91,152.43L569.57,152.45L570.24,152.48L570.90,152.50L571.56,152.52L572.22,152.55L572.88,152.57L573.55,152.59L574.21,152.62L574.87,152.64L575.53,152.66L576.20,152.69L576.86,152.71L577.52,152.74L578.18,152.76L578.84,152.78L579.51,152.81L580.17,152.83L580.83,152.85L581.49,152.88L582.16,152.90L582.82,152.92L583.48,152.95L584.14,152.97L584.80,153.00L585.47,153.02L586.13,153.04L586.79,153.07L587.45,153.09L588.12,153.11L588.78,153.14L589.44,153.16L590.10,153.18L590.76,153.21L591.43,153.23L592.09,153.26L592.75,153.28L593.41,153.30L594.08,153.33L594.74,153.35L595.40,153.37L596.06,153.40L596.73,153.42L597.39,153.45L598.05,153.47L598.71,153.49L599.37,153.52L600.04,153.54L600.70,153.56L601.36,153.59L602.02,153.61L602.69,153.63L603.35,153.66L604.01,153.68L604.67,153.71L605.33,153.73L606.00,153.75L606.66,153.78L607.32,153.80L607.98,153.82L608.65,153.85L609.31,153.87L609.97,153.89L610.63,153.92L611.29,153.94L611.96,153.97L612.62,153.99L613.28,154.01L613.94,154.04L614.61,154.06L615.27,154.08L615.93,154.11L616.59,154.13L617.25,154.16L617.92,154.18L618.58,154.20L619.24,154.23L619.90,154.25L620.57,154.27L621.23,154.30L621.89,154.32L622.55,154.34L623.22,154.37L623.88,154.39L624.54,154.42L625.20,154.44L625.86,154.46L626.53,154.49L627.19,154.51L627.85,154.53L628.51,154.56L629.18,154.58L629.84,154.60L630.50,154.63" fill="none" stroke="#d858d8" stroke-width="2.30" stroke-dasharray="10.3,10.5" stroke-dashoffset="1.00" stroke-linejoin="round"/>
<path d="M365.60,225.60L366.26,225.49L366.92,225.37L367.59,225.24L368.25,225.09L368.91,224.93L369.57,224.75L370.24,224.55L370.90,224.32L371.56,224.08L372.22,223.80L372.88,223.50L373.55,223.17L374.21,222.80L374.87,222.38L375.53,221.93L376.20,221.43L376.86,220.88L377.52,220.26L378.18,219.59L378.85,218.85L379.51,218.03L380.17,217.13L380.83,216.14L381.49,215.05L382.16,213.86L382.82,212.56L383.48,211.13L384.14,209.58L384.81,207.89L385.47,206.05L386.13,204.06L386.79,201.90L387.45,199.57L388.12,197.07L388.78,194.38L389.44,191.51L390.10,188.45L390.77,185.20L391.43,181.76L392.09,178.14L392.75,174.34L393.41,170.38L394.08,166.26L394.74,162.00L395.40,157.62L396.06,153.15L396.73,148.59L397.39,143.97L398.05,139.33L398.71,135.08L399.37,130.97L400.04,126.89L400.70,122.86L401.36,118.91L402.02,115.03L402.69,111.26L403.35,107.59L404.01,104.05L404.67,100.64L405.34,97.37L406.00,94.24L406.66,91.26L407.32,88.44L407.98,85.76L408.65,83.24L409.31,80.86L409.97,78.63L410.63,76.55L411.30,74.60L411.96,72.79L412.62,71.10L413.28,69.54L413.94,68.09L414.61,66.76L415.27,65.53L415.93,64.39L416.59,63.35L417.26,62.39L417.92,61.52L418.58,60.72L419.24,59.98L419.90,59.31L420.57,58.71L421.23,58.15L421.89,57.65L422.55,57.19L423.22,56.78L423.88,56.41L424.54,56.07L425.20,55.77L425.86,55.50L426.53,55.25L427.19,55.04L427.85,54.84L428.51,54.67L429.18,54.52L429.84,54.38L430.50,54.26L431.16,54.16L431.83,54.07L432.49,53.99L433.15,53.93L433.81,53.87L434.47,53.83L435.14,53.79L435.80,53.76L436.46,53.74L437.12,53.73L437.79,53.72L438.45,53.71L439.11,53.72L439.77,53.72L440.43,53.73L441.10,53.75L441.76,53.76L442.42,53.79L443.08,53.81L443.75,53.84L444.41,53.86L445.07,53.89L445.73,53.93L446.39,53.96L447.06,54.00L447.72,54.04L448.38,54.07L449.04,54.11L449.71,54.16L450.37,54.20L451.03,54.24L451.69,54.28L452.35,54.33L453.02,54.37L453.68,54.42L454.34,54.47L455.00,54.51L455.67,54.56L456.33,54.61L456.99,54.66L457.65,54.71L458.31,54.76L458.98,54.81L459.64,54.86L460.30,54.91L460.96,54.96L461.63,55.01L462.29,55.06L462.95,55.11L463.61,55.16L464.28,55.21L464.94,55.26L465.60,55.31L466.26,55.36L466.92,55.41L467.59,55.47L468.25,55.52L468.91,55.57L469.57,55.62L470.24,55.67L470.90,55.73L471.56,55.78L472.22,55.83L472.88,55.88L473.55,55.93L474.21,55.99L474.87,56.04L475.53,56.09L476.20,56.14L476.86,56.19L477.52,56.25L478.18,56.30L478.84,56.35L479.51,56.40L480.17,56.46L480.83,56.51L481.49,56.56L482.16,56.61L482.82,56.66L483.48,56.72L484.14,56.77L484.81,56.82L485.47,56.87L486.13,56.93L486.79,56.98L487.45,57.03L488.12,57.08L488.78,57.14L489.44,57.19L490.10,57.24L490.77,57.29L491.43,57.35L492.09,57.40L492.75,57.45L493.41,57.50L494.08,57.55L494.74,57.61L495.40,57.66L496.06,57.71L496.73,57.76L497.39,57.82L498.05,57.87L498.71,57.92L499.37,57.97L500.04,58.03L500.70,58.08L501.36,58.13L502.02,58.18L502.69,58.24L503.35,58.29L504.01,58.34L504.67,58.39L505.33,58.45L506.00,58.50L506.66,58.55L507.32,58.60L507.98,58.66L508.65,58.71L509.31,58.76L509.97,58.81L510.63,58.87L511.30,58.92L511.96,58.97L512.62,59.02L513.28,59.08L513.94,59.13L514.61,59.18L515.27,59.23L515.93,59.29L516.59,59.34L517.26,59.39L517.92,59.44L518.58,59.49L519.24,59.55L519.90,59.60L520.57,59.65L521.23,59.70L521.89,59.76L522.55,59.81L523.22,59.86L523.88,59.91L524.54,59.97L525.20,60.02L525.86,60.07L526.53,60.12L527.19,60.18L527.85,60.23L528.51,60.28L529.18,60.33L529.84,60.39L530.50,60.44L531.16,60.49L531.82,60.54L532.49,60.60L533.15,60.65L533.81,60.70L534.47,60.75L535.14,60.81L535.80,60.86L536.46,60.91L537.12,60.96L537.78,61.02L538.45,61.07L539.11,61.12L539.77,61.17L540.43,61.23L541.10,61.28L541.76,61.33L542.42,61.38L543.08,61.43L543.75,61.49L544.41,61.54L545.07,61.59L545.73,61.64L546.39,61.70L547.06,61.75L547.72,61.80L548.38,61.85L549.04,61.91L549.71,61.96L550.37,62.01L551.03,62.06L551.69,62.12L552.35,62.17L553.02,62.22L553.68,62.27L554.34,62.33L555.00,62.38L555.67,62.43L556.33,62.48L556.99,62.54L557.65,62.59L558.31,62.64L558.98,62.69L559.64,62.75L560.30,62.80L560.96,62.85L561.63,62.90L562.29,62.96L562.95,63.01L563.61,63.06L564.27,63.11L564.94,63.17L565.60,63.22L566.26,63.27L566.92,63.32L567.59,63.37L568.25,63.43L568.91,63.48L569.57,63.53L570.24,63.58L570.90,63.64L571.56,63.69L572.22,63.74L572.88,63.79L573.55,63.85L574.21,63.90L574.87,63.95L575.53,64.00L576.20,64.06L576.86,64.11L577.52,64.16L578.18,64.21L578.84,64.27L579.51,64.32L580.17,64.37L580.83,64.42L581.49,64.48L582.16,64.53L582.82,64.58L583.48,64.63L584.14,64.69L584.80,64.74L585.47,64.79L586.13,64.84L586.79,64.90L587.45,64.95L588.12,65.00L588.78,65.05L589.44,65.11L590.10,65.16L590.76,65.21L591.43,65.26L592.09,65.31L592.75,65.37L593.41,65.42L594.08,65.47L594.74,65.52L595.40,65.58L596.06,65.63L596.73,65.68L597.39,65.73L598.05,65.79L598.71,65.84L599.37,65.89L600.04,65.94L600.70,66.00L601.36,66.05L602.02,66.10L602.69,66.15L603.35,66.21L604.01,66.26L604.67,66.31L605.33,66.36L606.00,66.42L606.66,66.47L607.32,66.52L607.98,66.57L608.65,66.63L609.31,66.68L609.97,66.73L610.63,66.78L611.29,66.84L611.96,66.89L612.62,66.94L613.28,66.99L613.94,67.05L614.61,67.10L615.27,67.15L615.93,67.20L616.59,67.25L617.25,67.31L617.92,67.36L618.58,67.41L619.24,67.46L619.90,67.52L620.57,67.57L621.23,67.62L621.89,67.67L622.55,67.73L623.22,67.78L623.88,67.83L624.54,67.88L625.20,67.94L625.86,67.99L626.53,68.04L627.19,68.09L627.85,68.15L628.51,68.20L629.18,68.25L629.84,68.30L630.50,68.36" fill="none" stroke="#dfbd74" stroke-width="2.30" stroke-dasharray="4.6,5.0" stroke-dashoffset="-4.40" stroke-linejoin="round"/>
</g>
<g clip-path="url(#cc)">
<path d="M69.30,442.20L69.96,442.11L70.62,442.01L71.29,441.90L71.95,441.78L72.61,441.64L73.27,441.50L73.93,441.34L74.59,441.17L75.26,440.98L75.92,440.77L76.58,440.54L77.24,440.29L77.90,440.02L78.56,439.73L79.23,439.41L79.89,439.05L80.55,438.67L81.21,438.25L81.87,437.80L82.53,437.31L83.20,436.77L83.86,436.19L84.52,435.56L85.18,434.87L85.84,434.13L86.51,433.34L87.17,432.47L87.83,431.54L88.49,430.55L89.15,429.47L89.81,428.32L90.48,427.09L91.14,425.78L91.80,424.38L92.46,422.89L93.12,421.32L93.78,419.65L94.45,417.90L95.11,416.05L95.77,414.12L96.43,412.11L97.09,410.01L97.76,407.83L98.42,405.59L99.08,403.28L99.74,400.91L100.40,398.49L101.06,396.03L101.73,393.55L102.39,391.04L103.05,388.36L103.71,385.10L104.37,381.88L105.03,378.70L105.70,375.60L106.36,372.59L107.02,369.68L107.68,366.90L108.34,364.25L109.00,361.74L109.67,359.38L110.33,357.16L110.99,355.10L111.65,353.19L112.31,351.42L112.98,349.79L113.64,348.30L114.30,346.93L114.96,345.68L115.62,344.55L116.28,343.53L116.95,342.60L117.61,341.75L118.27,341.00L118.93,340.31L119.59,339.70L120.25,339.15L120.92,338.65L121.58,338.21L122.24,337.81L122.90,337.45L123.56,337.13L124.23,336.84L124.89,336.59L125.55,336.36L126.21,336.15L126.87,335.97L127.53,335.80L128.20,335.65L128.86,335.52L129.52,335.40L130.18,335.29L130.84,335.19L131.50,335.10L132.17,335.02L132.83,334.95L133.49,334.89L134.15,334.83L134.81,334.77L135.47,334.72L136.14,334.68L136.80,334.64L137.46,334.60L138.12,334.56L138.78,334.53L139.45,334.50L140.11,334.47L140.77,334.44L141.43,334.42L142.09,334.39L142.75,334.37L143.42,334.35L144.08,334.33L144.74,334.31L145.40,334.29L146.06,334.27L146.72,334.26L147.39,334.24L148.05,334.22L148.71,334.21L149.37,334.19L150.03,334.18L150.70,334.16L151.36,334.15L152.02,334.13L152.68,334.12L153.34,334.10L154.00,334.09L154.67,334.08L155.33,334.06L155.99,334.05L156.65,334.04L157.31,334.02L157.97,334.01L158.64,334.00L159.30,333.98L159.96,333.97L160.62,333.96L161.28,333.94L161.94,333.93L162.61,333.92L163.27,333.91L163.93,333.89L164.59,333.88L165.25,333.87L165.92,333.85L166.58,333.84L167.24,333.83L167.90,333.82L168.56,333.80L169.22,333.79L169.89,333.78L170.55,333.77L171.21,333.75L171.87,333.74L172.53,333.73L173.19,333.71L173.86,333.70L174.52,333.69L175.18,333.68L175.84,333.66L176.50,333.65L177.17,333.64L177.83,333.63L178.49,333.61L179.15,333.60L179.81,333.59L180.47,333.58L181.14,333.56L181.80,333.55L182.46,333.54L183.12,333.53L183.78,333.51L184.44,333.50L185.11,333.49L185.77,333.47L186.43,333.46L187.09,333.45L187.75,333.44L188.41,333.42L189.08,333.41L189.74,333.40L190.40,333.39L191.06,333.37L191.72,333.36L192.39,333.35L193.05,333.34L193.71,333.32L194.37,333.31L195.03,333.30L195.69,333.29L196.36,333.27L197.02,333.26L197.68,333.25L198.34,333.24L199.00,333.22L199.66,333.21L200.33,333.20L200.99,333.18L201.65,333.17L202.31,333.16L202.97,333.15L203.64,333.13L204.30,333.12L204.96,333.11L205.62,333.10L206.28,333.08L206.94,333.07L207.61,333.06L208.27,333.05L208.93,333.03L209.59,333.02L210.25,333.01L210.91,333.00L211.58,332.98L212.24,332.97L212.90,332.96L213.56,332.95L214.22,332.93L214.88,332.92L215.55,332.91L216.21,332.89L216.87,332.88L217.53,332.87L218.19,332.86L218.86,332.84L219.52,332.83L220.18,332.82L220.84,332.81L221.50,332.79L222.16,332.78L222.83,332.77L223.49,332.76L224.15,332.74L224.81,332.73L225.47,332.72L226.13,332.71L226.80,332.69L227.46,332.68L228.12,332.67L228.78,332.65L229.44,332.64L230.11,332.63L230.77,332.62L231.43,332.60L232.09,332.59L232.75,332.58L233.41,332.57L234.08,332.55L234.74,332.54L235.40,332.53L236.06,332.52L236.72,332.50L237.38,332.49L238.05,332.48L238.71,332.47L239.37,332.45L240.03,332.44L240.69,332.43L241.35,332.42L242.02,332.40L242.68,332.39L243.34,332.38L244.00,332.36L244.66,332.35L245.33,332.34L245.99,332.33L246.65,332.31L247.31,332.30L247.97,332.29L248.63,332.28L249.30,332.26L249.96,332.25L250.62,332.24L251.28,332.23L251.94,332.21L252.60,332.20L253.27,332.19L253.93,332.18L254.59,332.16L255.25,332.15L255.91,332.14L256.58,332.13L257.24,332.11L257.90,332.10L258.56,332.09L259.22,332.07L259.88,332.06L260.55,332.05L261.21,332.04L261.87,332.02L262.53,332.01L263.19,332.00L263.85,331.99L264.52,331.97L265.18,331.96L265.84,331.95L266.50,331.94L267.16,331.92L267.82,331.91L268.49,331.90L269.15,331.89L269.81,331.87L270.47,331.86L271.13,331.85L271.80,331.84L272.46,331.82L273.12,331.81L273.78,331.80L274.44,331.78L275.10,331.77L275.77,331.76L276.43,331.75L277.09,331.73L277.75,331.72L278.41,331.71L279.07,331.70L279.74,331.68L280.40,331.67L281.06,331.66L281.72,331.65L282.38,331.63L283.05,331.62L283.71,331.61L284.37,331.60L285.03,331.58L285.69,331.57L286.35,331.56L287.02,331.55L287.68,331.53L288.34,331.52L289.00,331.51L289.66,331.49L290.32,331.48L290.99,331.47L291.65,331.46L292.31,331.44L292.97,331.43L293.63,331.42L294.29,331.41L294.96,331.39L295.62,331.38L296.28,331.37L296.94,331.36L297.60,331.34L298.27,331.33L298.93,331.32L299.59,331.31L300.25,331.29L300.91,331.28L301.57,331.27L302.24,331.26L302.90,331.24L303.56,331.23L304.22,331.22L304.88,331.20L305.54,331.19L306.21,331.18L306.87,331.17L307.53,331.15L308.19,331.14L308.85,331.13L309.52,331.12L310.18,331.10L310.84,331.09L311.50,331.08L312.16,331.07L312.82,331.05L313.49,331.04L314.15,331.03L314.81,331.02L315.47,331.00L316.13,330.99L316.79,330.98L317.46,330.97L318.12,330.95L318.78,330.94L319.44,330.93L320.10,330.91L320.76,330.90L321.43,330.89L322.09,330.88L322.75,330.86L323.41,330.85L324.07,330.84L324.74,330.83L325.40,330.81L326.06,330.80L326.72,330.79L327.38,330.78L328.04,330.76L328.71,330.75L329.37,330.74L330.03,330.73L330.69,330.71L331.35,330.70L332.01,330.69L332.68,330.68L333.34,330.66L334.00,330.65" fill="none" stroke="#4ee64e" stroke-width="2.30" stroke-linejoin="round"/>
<path d="M69.30,442.20L69.96,442.10L70.62,441.99L71.29,441.87L71.95,441.74L72.61,441.59L73.27,441.42L73.93,441.24L74.59,441.03L75.26,440.81L75.92,440.56L76.58,440.29L77.24,439.98L77.90,439.65L78.56,439.28L79.23,438.87L79.89,438.42L80.55,437.92L81.21,437.37L81.87,436.77L82.53,436.10L83.20,435.37L83.86,434.57L84.52,433.69L85.18,432.73L85.84,431.67L86.51,430.52L87.17,429.27L87.83,427.90L88.49,426.42L89.15,424.81L89.81,423.07L90.48,421.19L91.14,419.17L91.80,417.00L92.46,414.68L93.12,412.21L93.78,409.59L94.45,406.81L95.11,403.89L95.77,400.81L96.43,397.61L97.09,394.27L97.76,390.81L98.42,387.25L99.08,383.61L99.74,379.89L100.40,376.12L101.06,372.32L101.73,368.51L102.39,364.71L103.05,360.95L103.71,357.23L104.37,353.58L105.03,350.02L105.70,346.57L106.36,343.23L107.02,340.02L107.68,336.95L108.34,334.03L109.00,331.26L109.67,328.65L110.33,326.18L110.99,323.88L111.65,321.72L112.31,319.72L112.98,317.86L113.64,316.14L114.30,314.55L114.96,313.09L115.62,311.75L116.28,310.52L116.95,309.40L117.61,308.38L118.27,307.45L118.93,306.60L119.59,305.83L120.25,305.14L120.92,304.51L121.58,303.94L122.24,303.43L122.90,302.97L123.56,302.56L124.23,302.19L124.89,301.86L125.55,301.57L126.21,301.31L126.87,301.07L127.53,300.87L128.20,300.68L128.86,300.52L129.52,300.38L130.18,300.26L130.84,300.16L131.50,300.06L132.17,299.99L132.83,299.92L133.49,299.87L134.15,299.82L134.81,299.78L135.47,299.75L136.14,299.73L136.80,299.72L137.46,299.71L138.12,299.70L138.78,299.70L139.45,299.71L140.11,299.72L140.77,299.73L141.43,299.74L142.09,299.76L142.75,299.78L143.42,299.80L144.08,299.83L144.74,299.86L145.40,299.88L146.06,299.91L146.72,299.95L147.39,299.98L148.05,300.01L148.71,300.05L149.37,300.08L150.03,300.12L150.70,300.15L151.36,300.19L152.02,300.23L152.68,300.27L153.34,300.31L154.00,300.35L154.67,300.39L155.33,300.43L155.99,300.47L156.65,300.51L157.31,300.55L157.97,300.59L158.64,300.63L159.30,300.67L159.96,300.72L160.62,300.76L161.28,300.80L161.94,300.84L162.61,300.89L163.27,300.93L163.93,300.97L164.59,301.01L165.25,301.06L165.92,301.10L166.58,301.14L167.24,301.18L167.90,301.23L168.56,301.27L169.22,301.31L169.89,301.36L170.55,301.40L171.21,301.44L171.87,301.49L172.53,301.53L173.19,301.57L173.86,301.62L174.52,301.66L175.18,301.70L175.84,301.75L176.50,301.79L177.17,301.83L177.83,301.87L178.49,301.92L179.15,301.96L179.81,302.00L180.47,302.05L181.14,302.09L181.80,302.13L182.46,302.18L183.12,302.22L183.78,302.26L184.44,302.31L185.11,302.35L185.77,302.39L186.43,302.44L187.09,302.48L187.75,302.52L188.41,302.57L189.08,302.61L189.74,302.65L190.40,302.70L191.06,302.74L191.72,302.79L192.39,302.83L193.05,302.87L193.71,302.92L194.37,302.96L195.03,303.00L195.69,303.05L196.36,303.09L197.02,303.13L197.68,303.18L198.34,303.22L199.00,303.26L199.66,303.31L200.33,303.35L200.99,303.39L201.65,303.44L202.31,303.48L202.97,303.52L203.64,303.57L204.30,303.61L204.96,303.65L205.62,303.70L206.28,303.74L206.94,303.78L207.61,303.83L208.27,303.87L208.93,303.91L209.59,303.96L210.25,304.00L210.91,304.04L211.58,304.09L212.24,304.13L212.90,304.17L213.56,304.22L214.22,304.26L214.88,304.30L215.55,304.35L216.21,304.39L216.87,304.43L217.53,304.48L218.19,304.52L218.86,304.56L219.52,304.61L220.18,304.65L220.84,304.69L221.50,304.74L222.16,304.78L222.83,304.82L223.49,304.87L224.15,304.91L224.81,304.95L225.47,305.00L226.13,305.04L226.80,305.08L227.46,305.13L228.12,305.17L228.78,305.21L229.44,305.26L230.11,305.30L230.77,305.34L231.43,305.39L232.09,305.43L232.75,305.47L233.41,305.52L234.08,305.56L234.74,305.60L235.40,305.65L236.06,305.69L236.72,305.73L237.38,305.78L238.05,305.82L238.71,305.86L239.37,305.91L240.03,305.95L240.69,306.00L241.35,306.04L242.02,306.08L242.68,306.13L243.34,306.17L244.00,306.21L244.66,306.26L245.33,306.30L245.99,306.34L246.65,306.39L247.31,306.43L247.97,306.47L248.63,306.52L249.30,306.56L249.96,306.60L250.62,306.65L251.28,306.69L251.94,306.73L252.60,306.78L253.27,306.82L253.93,306.86L254.59,306.91L255.25,306.95L255.91,306.99L256.58,307.04L257.24,307.08L257.90,307.12L258.56,307.17L259.22,307.21L259.88,307.25L260.55,307.30L261.21,307.34L261.87,307.38L262.53,307.43L263.19,307.47L263.85,307.51L264.52,307.56L265.18,307.60L265.84,307.64L266.50,307.69L267.16,307.73L267.82,307.77L268.49,307.82L269.15,307.86L269.81,307.90L270.47,307.95L271.13,307.99L271.80,308.03L272.46,308.08L273.12,308.12L273.78,308.16L274.44,308.21L275.10,308.25L275.77,308.29L276.43,308.34L277.09,308.38L277.75,308.42L278.41,308.47L279.07,308.51L279.74,308.55L280.40,308.60L281.06,308.64L281.72,308.68L282.38,308.73L283.05,308.77L283.71,308.81L284.37,308.86L285.03,308.90L285.69,308.94L286.35,308.99L287.02,309.03L287.68,309.07L288.34,309.12L289.00,309.16L289.66,309.21L290.32,309.25L290.99,309.29L291.65,309.34L292.31,309.38L292.97,309.42L293.63,309.47L294.29,309.51L294.96,309.55L295.62,309.60L296.28,309.64L296.94,309.68L297.60,309.73L298.27,309.77L298.93,309.81L299.59,309.86L300.25,309.90L300.91,309.94L301.57,309.99L302.24,310.03L302.90,310.07L303.56,310.12L304.22,310.16L304.88,310.20L305.54,310.25L306.21,310.29L306.87,310.33L307.53,310.38L308.19,310.42L308.85,310.46L309.52,310.51L310.18,310.55L310.84,310.59L311.50,310.64L312.16,310.68L312.82,310.72L313.49,310.77L314.15,310.81L314.81,310.85L315.47,310.90L316.13,310.94L316.79,310.98L317.46,311.03L318.12,311.07L318.78,311.11L319.44,311.16L320.10,311.20L320.76,311.24L321.43,311.29L322.09,311.33L322.75,311.37L323.41,311.42L324.07,311.46L324.74,311.50L325.40,311.55L326.06,311.59L326.72,311.63L327.38,311.68L328.04,311.72L328.71,311.76L329.37,311.81L330.03,311.85L330.69,311.89L331.35,311.94L332.01,311.98L332.68,312.02L333.34,312.07L334.00,312.11" fill="none" stroke="#d858d8" stroke-width="2.30" stroke-dasharray="10.3,10.5" stroke-dashoffset="2.80" stroke-linejoin="round"/>
<path d="M69.30,442.20L69.96,442.04L70.62,441.85L71.29,441.66L71.95,441.44L72.61,441.20L73.27,440.94L73.93,440.65L74.59,440.34L75.26,439.99L75.92,439.62L76.58,439.21L77.24,438.76L77.90,438.26L78.56,437.72L79.23,437.13L79.89,436.49L80.55,435.79L81.21,435.02L81.87,434.19L82.53,433.28L83.20,432.30L83.86,431.22L84.52,430.06L85.18,428.80L85.84,427.43L86.51,425.95L87.17,424.36L87.83,422.64L88.49,420.79L89.15,418.80L89.81,416.68L90.48,414.40L91.14,411.97L91.80,409.39L92.46,406.65L93.12,403.75L93.78,400.69L94.45,397.48L95.11,394.10L95.77,390.58L96.43,386.92L97.09,383.12L97.76,379.19L98.42,375.16L99.08,371.03L99.74,366.82L100.40,362.55L101.06,358.23L101.73,353.89L102.39,349.76L103.05,345.89L103.71,342.05L104.37,338.24L105.03,334.49L105.70,330.81L106.36,327.20L107.02,323.69L107.68,320.27L108.34,316.96L109.00,313.76L109.67,310.69L110.33,307.73L110.99,304.91L111.65,302.22L112.31,299.66L112.98,297.23L113.64,294.93L114.30,292.76L114.96,290.72L115.62,288.81L116.28,287.01L116.95,285.33L117.61,283.77L118.27,282.31L118.93,280.96L119.59,279.70L120.25,278.54L120.92,277.47L121.58,276.48L122.24,275.57L122.90,274.73L123.56,273.96L124.23,273.26L124.89,272.62L125.55,272.04L126.21,271.51L126.87,271.03L127.53,270.60L128.20,270.21L128.86,269.86L129.52,269.55L130.18,269.27L130.84,269.02L131.50,268.81L132.17,268.62L132.83,268.45L133.49,268.31L134.15,268.19L134.81,268.09L135.47,268.01L136.14,267.94L136.80,267.89L137.46,267.86L138.12,267.83L138.78,267.82L139.45,267.82L140.11,267.83L140.77,267.85L141.43,267.88L142.09,267.92L142.75,267.96L143.42,268.01L144.08,268.07L144.74,268.13L145.40,268.20L146.06,268.27L146.72,268.35L147.39,268.43L148.05,268.52L148.71,268.60L149.37,268.70L150.03,268.79L150.70,268.89L151.36,268.99L152.02,269.09L152.68,269.19L153.34,269.30L154.00,269.40L154.67,269.51L155.33,269.62L155.99,269.73L156.65,269.85L157.31,269.96L157.97,270.07L158.64,270.19L159.30,270.31L159.96,270.42L160.62,270.54L161.28,270.66L161.94,270.78L162.61,270.90L163.27,271.02L163.93,271.14L164.59,271.26L165.25,271.38L165.92,271.51L166.58,271.63L167.24,271.75L167.90,271.87L168.56,272.00L169.22,272.12L169.89,272.24L170.55,272.37L171.21,272.49L171.87,272.62L172.53,272.74L173.19,272.87L173.86,272.99L174.52,273.11L175.18,273.24L175.84,273.36L176.50,273.49L177.17,273.61L177.83,273.74L178.49,273.87L179.15,273.99L179.81,274.12L180.47,274.24L181.14,274.37L181.80,274.49L182.46,274.62L183.12,274.74L183.78,274.87L184.44,275.00L185.11,275.12L185.77,275.25L186.43,275.37L187.09,275.50L187.75,275.62L188.41,275.75L189.08,275.88L189.74,276.00L190.40,276.13L191.06,276.25L191.72,276.38L192.39,276.51L193.05,276.63L193.71,276.76L194.37,276.88L195.03,277.01L195.69,277.14L196.36,277.26L197.02,277.39L197.68,277.51L198.34,277.64L199.00,277.77L199.66,277.89L200.33,278.02L200.99,278.14L201.65,278.27L202.31,278.40L202.97,278.52L203.64,278.65L204.30,278.77L204.96,278.90L205.62,279.03L206.28,279.15L206.94,279.28L207.61,279.41L208.27,279.53L208.93,279.66L209.59,279.78L210.25,279.91L210.91,280.04L211.58,280.16L212.24,280.29L212.90,280.41L213.56,280.54L214.22,280.67L214.88,280.79L215.55,280.92L216.21,281.04L216.87,281.17L217.53,281.30L218.19,281.42L218.86,281.55L219.52,281.67L220.18,281.80L220.84,281.93L221.50,282.05L222.16,282.18L222.83,282.31L223.49,282.43L224.15,282.56L224.81,282.68L225.47,282.81L226.13,282.94L226.80,283.06L227.46,283.19L228.12,283.31L228.78,283.44L229.44,283.57L230.11,283.69L230.77,283.82L231.43,283.94L232.09,284.07L232.75,284.20L233.41,284.32L234.08,284.45L234.74,284.58L235.40,284.70L236.06,284.83L236.72,284.95L237.38,285.08L238.05,285.21L238.71,285.33L239.37,285.46L240.03,285.58L240.69,285.71L241.35,285.84L242.02,285.96L242.68,286.09L243.34,286.21L244.00,286.34L244.66,286.47L245.33,286.59L245.99,286.72L246.65,286.84L247.31,286.97L247.97,287.10L248.63,287.22L249.30,287.35L249.96,287.48L250.62,287.60L251.28,287.73L251.94,287.85L252.60,287.98L253.27,288.11L253.93,288.23L254.59,288.36L255.25,288.48L255.91,288.61L256.58,288.74L257.24,288.86L257.90,288.99L258.56,289.11L259.22,289.24L259.88,289.37L260.55,289.49L261.21,289.62L261.87,289.75L262.53,289.87L263.19,290.00L263.85,290.12L264.52,290.25L265.18,290.38L265.84,290.50L266.50,290.63L267.16,290.75L267.82,290.88L268.49,291.01L269.15,291.13L269.81,291.26L270.47,291.38L271.13,291.51L271.80,291.64L272.46,291.76L273.12,291.89L273.78,292.01L274.44,292.14L275.10,292.27L275.77,292.39L276.43,292.52L277.09,292.65L277.75,292.77L278.41,292.90L279.07,293.02L279.74,293.15L280.40,293.28L281.06,293.40L281.72,293.53L282.38,293.65L283.05,293.78L283.71,293.91L284.37,294.03L285.03,294.16L285.69,294.28L286.35,294.41L287.02,294.54L287.68,294.66L288.34,294.79L289.00,294.92L289.66,295.04L290.32,295.17L290.99,295.29L291.65,295.42L292.31,295.55L292.97,295.67L293.63,295.80L294.29,295.92L294.96,296.05L295.62,296.18L296.28,296.30L296.94,296.43L297.60,296.55L298.27,296.68L298.93,296.81L299.59,296.93L300.25,297.06L300.91,297.19L301.57,297.31L302.24,297.44L302.90,297.56L303.56,297.69L304.22,297.82L304.88,297.94L305.54,298.07L306.21,298.19L306.87,298.32L307.53,298.45L308.19,298.57L308.85,298.70L309.52,298.82L310.18,298.95L310.84,299.08L311.50,299.20L312.16,299.33L312.82,299.45L313.49,299.58L314.15,299.71L314.81,299.83L315.47,299.96L316.13,300.09L316.79,300.21L317.46,300.34L318.12,300.46L318.78,300.59L319.44,300.72L320.10,300.84L320.76,300.97L321.43,301.09L322.09,301.22L322.75,301.35L323.41,301.47L324.07,301.60L324.74,301.72L325.40,301.85L326.06,301.98L326.72,302.10L327.38,302.23L328.04,302.36L328.71,302.48L329.37,302.61L330.03,302.73L330.69,302.86L331.35,302.99L332.01,303.11L332.68,303.24L333.34,303.36L334.00,303.49" fill="none" stroke="#dfbd74" stroke-width="2.30" stroke-dasharray="4.6,5.0" stroke-dashoffset="-2.90" stroke-linejoin="round"/>
</g>
<g clip-path="url(#cd)">
<path d="M368.45,407.62L369.10,399.99L369.76,392.52L370.41,385.22L371.06,378.12L371.72,371.23L372.37,364.58L373.02,358.17L373.68,352.01L374.33,346.12L374.99,340.49L375.64,335.13L376.29,330.04L376.95,325.22L377.60,320.66L378.26,316.36L378.91,312.32L379.56,308.52L380.22,304.96L380.87,301.62L381.53,298.51L382.18,295.61L382.83,292.90L383.49,290.39L384.14,288.05L384.79,285.89L385.45,283.88L386.10,282.03L386.76,280.31L387.41,278.73L388.06,277.27L388.72,275.92L389.37,274.68L390.03,273.54L390.68,272.49L391.33,271.53L391.99,270.65L392.64,269.84L393.29,269.10L393.95,268.43L394.60,267.81L395.26,267.25L395.91,266.73L396.56,266.26L397.22,265.84L397.87,265.45L398.53,265.10L399.18,264.78L399.83,264.49L400.49,264.23L401.14,264.00L401.80,263.78L402.45,263.60L403.10,263.43L403.76,263.28L404.41,263.14L405.06,263.02L405.72,262.92L406.37,262.83L407.03,262.75L407.68,262.68L408.33,262.62L408.99,262.57L409.64,262.53L410.30,262.50L410.95,262.48L411.60,262.46L412.26,262.44L412.91,262.44L413.57,262.43L414.22,262.44L414.87,262.44L415.53,262.45L416.18,262.47L416.83,262.49L417.49,262.51L418.14,262.53L418.80,262.55L419.45,262.58L420.10,262.61L420.76,262.65L421.41,262.68L422.07,262.71L422.72,262.75L423.37,262.79L424.03,262.83L424.68,262.87L425.34,262.91L425.99,262.96L426.64,263.00L427.30,263.04L427.95,263.09L428.60,263.14L429.26,263.18L429.91,263.23L430.57,263.28L431.22,263.33L431.87,263.37L432.53,263.42L433.18,263.47L433.84,263.52L434.49,263.57L435.14,263.62L435.80,263.67L436.45,263.73L437.10,263.78L437.76,263.83L438.41,263.88L439.07,263.93L439.72,263.98L440.37,264.03L441.03,264.09L441.68,264.14L442.34,264.19L442.99,264.24L443.64,264.30L444.30,264.35L444.95,264.40L445.61,264.45L446.26,264.51L446.91,264.56L447.57,264.61L448.22,264.67L448.87,264.72L449.53,264.77L450.18,264.83L450.84,264.88L451.49,264.93L452.14,264.99L452.80,265.04L453.45,265.09L454.11,265.15L454.76,265.20L455.41,265.25L456.07,265.31L456.72,265.36L457.38,265.41L458.03,265.47L458.68,265.52L459.34,265.57L459.99,265.63L460.64,265.68L461.30,265.73L461.95,265.79L462.61,265.84L463.26,265.89L463.91,265.95L464.57,266.00L465.22,266.05L465.88,266.11L466.53,266.16L467.18,266.21L467.84,266.27L468.49,266.32L469.15,266.38L469.80,266.43L470.45,266.48L471.11,266.54L471.76,266.59L472.41,266.64L473.07,266.70L473.72,266.75L474.38,266.80L475.03,266.86L475.68,266.91L476.34,266.96L476.99,267.02L477.65,267.07L478.30,267.13L478.95,267.18L479.61,267.23L480.26,267.29L480.92,267.34L481.57,267.39L482.22,267.45L482.88,267.50L483.53,267.55L484.18,267.61L484.84,267.66L485.49,267.71L486.15,267.77L486.80,267.82L487.45,267.88L488.11,267.93L488.76,267.98L489.42,268.04L490.07,268.09L490.72,268.14L491.38,268.20L492.03,268.25L492.68,268.30L493.34,268.36L493.99,268.41L494.65,268.47L495.30,268.52L495.95,268.57L496.61,268.63L497.26,268.68L497.92,268.73L498.57,268.79L499.22,268.84L499.88,268.89L500.53,268.95L501.19,269.00L501.84,269.05L502.49,269.11L503.15,269.16L503.80,269.22L504.45,269.27L505.11,269.32L505.76,269.38L506.42,269.43L507.07,269.48L507.72,269.54L508.38,269.59L509.03,269.64L509.69,269.70L510.34,269.75L510.99,269.80L511.65,269.86L512.30,269.91L512.96,269.97L513.61,270.02L514.26,270.07L514.92,270.13L515.57,270.18L516.22,270.23L516.88,270.29L517.53,270.34L518.19,270.39L518.84,270.45L519.49,270.50L520.15,270.55L520.80,270.61L521.46,270.66L522.11,270.72L522.76,270.77L523.42,270.82L524.07,270.88L524.73,270.93L525.38,270.98L526.03,271.04L526.69,271.09L527.34,271.14L527.99,271.20L528.65,271.25L529.30,271.30L529.96,271.36L530.61,271.41L531.26,271.47L531.92,271.52L532.57,271.57L533.23,271.63L533.88,271.68L534.53,271.73L535.19,271.79L535.84,271.84L536.49,271.89L537.15,271.95L537.80,272.00L538.46,272.06L539.11,272.11L539.76,272.16L540.42,272.22L541.07,272.27L541.73,272.32L542.38,272.38L543.03,272.43L543.69,272.48L544.34,272.54L545.00,272.59L545.65,272.64L546.30,272.70L546.96,272.75L547.61,272.81L548.26,272.86L548.92,272.91L549.57,272.97L550.23,273.02L550.88,273.07L551.53,273.13L552.19,273.18L552.84,273.23L553.50,273.29L554.15,273.34L554.80,273.39L555.46,273.45L556.11,273.50L556.77,273.56L557.42,273.61L558.07,273.66L558.73,273.72L559.38,273.77L560.03,273.82L560.69,273.88L561.34,273.93L562.00,273.98L562.65,274.04L563.30,274.09L563.96,274.14L564.61,274.20L565.27,274.25L565.92,274.31L566.57,274.36L567.23,274.41L567.88,274.47L568.54,274.52L569.19,274.57L569.84,274.63L570.50,274.68L571.15,274.73L571.80,274.79L572.46,274.84L573.11,274.90L573.77,274.95L574.42,275.00L575.07,275.06L575.73,275.11L576.38,275.16L577.04,275.22L577.69,275.27L578.34,275.32L579.00,275.38L579.65,275.43L580.31,275.48L580.96,275.54L581.61,275.59L582.27,275.65L582.92,275.70L583.57,275.75L584.23,275.81L584.88,275.86L585.54,275.91L586.19,275.97L586.84,276.02L587.50,276.07L588.15,276.13L588.81,276.18L589.46,276.23L590.11,276.29L590.77,276.34L591.42,276.40L592.07,276.45L592.73,276.50L593.38,276.56L594.04,276.61L594.69,276.66L595.34,276.72L596.00,276.77L596.65,276.82L597.31,276.88L597.96,276.93L598.61,276.98L599.27,277.04L599.92,277.09L600.58,277.15L601.23,277.20L601.88,277.25L602.54,277.31L603.19,277.36L603.84,277.41L604.50,277.47L605.15,277.52L605.81,277.57L606.46,277.63L607.11,277.68L607.77,277.73L608.42,277.79L609.08,277.84L609.73,277.90L610.38,277.95L611.04,278.00L611.69,278.06L612.35,278.11L613.00,278.16L613.65,278.22L614.31,278.27L614.96,278.32L615.61,278.38L616.27,278.43L616.92,278.49L617.58,278.54L618.23,278.59L618.88,278.65L619.54,278.70L620.19,278.75L620.85,278.81L621.50,278.86L622.15,278.91L622.81,278.97L623.46,279.02L624.12,279.07L624.77,279.13L625.42,279.18L626.08,279.24L626.73,279.29L627.38,279.34L628.04,279.40L628.69,279.45L629.35,279.50L630.00,279.56" fill="none" stroke="#4ee64e" stroke-width="2.30" stroke-linejoin="round"/>
<path d="M365.60,442.00L366.26,441.88L366.92,441.76L367.58,441.61L368.24,441.46L368.91,441.28L369.57,441.09L370.23,440.87L370.89,440.63L371.55,440.37L372.21,440.08L372.87,439.76L373.53,439.40L374.19,439.01L374.85,438.57L375.52,438.09L376.18,437.56L376.84,436.98L377.50,436.33L378.16,435.62L378.82,434.84L379.48,433.98L380.14,433.04L380.80,432.00L381.46,430.86L382.12,429.62L382.79,428.25L383.45,426.77L384.11,425.15L384.77,423.39L385.43,421.48L386.09,419.41L386.75,417.17L387.41,414.76L388.07,412.17L388.74,409.39L389.40,406.43L390.06,403.27L390.72,399.92L391.38,396.38L392.04,392.66L392.70,388.76L393.36,384.69L394.02,380.47L394.68,376.11L395.35,371.62L396.01,367.03L396.67,362.37L397.33,357.65L397.99,352.90L398.65,348.47L399.31,344.15L399.97,339.88L400.63,335.66L401.29,331.51L401.96,327.46L402.62,323.51L403.28,319.68L403.94,315.98L404.60,312.42L405.26,309.02L405.92,305.76L406.58,302.67L407.24,299.73L407.90,296.96L408.56,294.35L409.23,291.89L409.89,289.59L410.55,287.44L411.21,285.44L411.87,283.58L412.53,281.85L413.19,280.26L413.85,278.78L414.51,277.42L415.18,276.16L415.84,275.01L416.50,273.95L417.16,272.99L417.82,272.10L418.48,271.29L419.14,270.55L419.80,269.88L420.46,269.27L421.12,268.72L421.79,268.22L422.45,267.76L423.11,267.35L423.77,266.98L424.43,266.65L425.09,266.35L425.75,266.08L426.41,265.84L427.07,265.63L427.73,265.44L428.40,265.27L429.06,265.13L429.72,265.00L430.38,264.88L431.04,264.78L431.70,264.70L432.36,264.63L433.02,264.57L433.68,264.52L434.34,264.47L435.00,264.44L435.67,264.42L436.33,264.40L436.99,264.39L437.65,264.38L438.31,264.38L438.97,264.39L439.63,264.40L440.29,264.41L440.95,264.43L441.62,264.45L442.28,264.48L442.94,264.50L443.60,264.53L444.26,264.56L444.92,264.60L445.58,264.63L446.24,264.67L446.90,264.71L447.56,264.75L448.23,264.79L448.89,264.83L449.55,264.87L450.21,264.92L450.87,264.96L451.53,265.01L452.19,265.06L452.85,265.11L453.51,265.15L454.17,265.20L454.84,265.25L455.50,265.30L456.16,265.35L456.82,265.40L457.48,265.45L458.14,265.50L458.80,265.56L459.46,265.61L460.12,265.66L460.78,265.71L461.44,265.76L462.11,265.82L462.77,265.87L463.43,265.92L464.09,265.97L464.75,266.03L465.41,266.08L466.07,266.13L466.73,266.19L467.39,266.24L468.06,266.29L468.72,266.35L469.38,266.40L470.04,266.45L470.70,266.51L471.36,266.56L472.02,266.61L472.68,266.67L473.34,266.72L474.00,266.78L474.67,266.83L475.33,266.88L475.99,266.94L476.65,266.99L477.31,267.05L477.97,267.10L478.63,267.15L479.29,267.21L479.95,267.26L480.61,267.32L481.27,267.37L481.94,267.42L482.60,267.48L483.26,267.53L483.92,267.59L484.58,267.64L485.24,267.69L485.90,267.75L486.56,267.80L487.22,267.86L487.88,267.91L488.55,267.97L489.21,268.02L489.87,268.07L490.53,268.13L491.19,268.18L491.85,268.24L492.51,268.29L493.17,268.34L493.83,268.40L494.50,268.45L495.16,268.51L495.82,268.56L496.48,268.62L497.14,268.67L497.80,268.72L498.46,268.78L499.12,268.83L499.78,268.89L500.44,268.94L501.11,268.99L501.77,269.05L502.43,269.10L503.09,269.16L503.75,269.21L504.41,269.27L505.07,269.32L505.73,269.37L506.39,269.43L507.05,269.48L507.72,269.54L508.38,269.59L509.04,269.64L509.70,269.70L510.36,269.75L511.02,269.81L511.68,269.86L512.34,269.92L513.00,269.97L513.66,270.02L514.33,270.08L514.99,270.13L515.65,270.19L516.31,270.24L516.97,270.29L517.63,270.35L518.29,270.40L518.95,270.46L519.61,270.51L520.27,270.57L520.93,270.62L521.60,270.67L522.26,270.73L522.92,270.78L523.58,270.84L524.24,270.89L524.90,270.94L525.56,271.00L526.22,271.05L526.88,271.11L527.54,271.16L528.21,271.22L528.87,271.27L529.53,271.32L530.19,271.38L530.85,271.43L531.51,271.49L532.17,271.54L532.83,271.59L533.49,271.65L534.15,271.70L534.82,271.76L535.48,271.81L536.14,271.87L536.80,271.92L537.46,271.97L538.12,272.03L538.78,272.08L539.44,272.14L540.10,272.19L540.76,272.24L541.43,272.30L542.09,272.35L542.75,272.41L543.41,272.46L544.07,272.52L544.73,272.57L545.39,272.62L546.05,272.68L546.71,272.73L547.38,272.79L548.04,272.84L548.70,272.89L549.36,272.95L550.02,273.00L550.68,273.06L551.34,273.11L552.00,273.17L552.66,273.22L553.32,273.27L553.99,273.33L554.65,273.38L555.31,273.44L555.97,273.49L556.63,273.54L557.29,273.60L557.95,273.65L558.61,273.71L559.27,273.76L559.93,273.82L560.60,273.87L561.26,273.92L561.92,273.98L562.58,274.03L563.24,274.09L563.90,274.14L564.56,274.19L565.22,274.25L565.88,274.30L566.54,274.36L567.20,274.41L567.87,274.47L568.53,274.52L569.19,274.57L569.85,274.63L570.51,274.68L571.17,274.74L571.83,274.79L572.49,274.84L573.15,274.90L573.82,274.95L574.48,275.01L575.14,275.06L575.80,275.12L576.46,275.17L577.12,275.22L577.78,275.28L578.44,275.33L579.10,275.39L579.76,275.44L580.42,275.49L581.09,275.55L581.75,275.60L582.41,275.66L583.07,275.71L583.73,275.77L584.39,275.82L585.05,275.87L585.71,275.93L586.37,275.98L587.04,276.04L587.70,276.09L588.36,276.14L589.02,276.20L589.68,276.25L590.34,276.31L591.00,276.36L591.66,276.42L592.32,276.47L592.98,276.52L593.64,276.58L594.31,276.63L594.97,276.69L595.63,276.74L596.29,276.79L596.95,276.85L597.61,276.90L598.27,276.96L598.93,277.01L599.59,277.07L600.25,277.12L600.92,277.17L601.58,277.23L602.24,277.28L602.90,277.34L603.56,277.39L604.22,277.44L604.88,277.50L605.54,277.55L606.20,277.61L606.87,277.66L607.53,277.72L608.19,277.77L608.85,277.82L609.51,277.88L610.17,277.93L610.83,277.99L611.49,278.04L612.15,278.09L612.81,278.15L613.47,278.20L614.14,278.26L614.80,278.31L615.46,278.37L616.12,278.42L616.78,278.47L617.44,278.53L618.10,278.58L618.76,278.64L619.42,278.69L620.09,278.74L620.75,278.80L621.41,278.85L622.07,278.91L622.73,278.96L623.39,279.02L624.05,279.07L624.71,279.12L625.37,279.18L626.03,279.23L626.69,279.29L627.36,279.34L628.02,279.39L628.68,279.45L629.34,279.50L630.00,279.56" fill="none" stroke="#d858d8" stroke-width="2.30" stroke-dasharray="10.3,10.5" stroke-dashoffset="-9.60" stroke-linejoin="round"/>
<path d="M365.60,442.00L366.26,441.96L366.92,441.92L367.58,441.88L368.24,441.83L368.91,441.77L369.57,441.71L370.23,441.64L370.89,441.57L371.55,441.49L372.21,441.39L372.87,441.29L373.53,441.18L374.19,441.05L374.85,440.91L375.52,440.75L376.18,440.58L376.84,440.39L377.50,440.18L378.16,439.95L378.82,439.69L379.48,439.40L380.14,439.08L380.80,438.73L381.46,438.35L382.12,437.92L382.79,437.44L383.45,436.92L384.11,436.35L384.77,435.71L385.43,435.01L386.09,434.24L386.75,433.39L387.41,432.46L388.07,431.44L388.74,430.32L389.40,429.09L390.06,427.75L390.72,426.28L391.38,424.69L392.04,422.95L392.70,421.06L393.36,419.02L394.02,416.81L394.68,414.43L395.35,411.88L396.01,409.13L396.67,406.21L397.33,403.09L397.99,399.78L398.65,396.28L399.31,392.60L399.97,388.74L400.63,384.71L401.29,380.53L401.96,376.21L402.62,371.76L403.28,367.22L403.94,362.59L404.60,357.91L405.26,353.19L405.92,348.76L406.58,344.48L407.24,340.23L407.90,336.04L408.56,331.91L409.23,327.88L409.89,323.95L410.55,320.14L411.21,316.46L411.87,312.92L412.53,309.52L413.19,306.28L413.85,303.20L414.51,300.27L415.18,297.51L415.84,294.90L416.50,292.45L417.16,290.16L417.82,288.02L418.48,286.02L419.14,284.16L419.80,282.44L420.46,280.84L421.12,279.36L421.79,278.00L422.45,276.75L423.11,275.60L423.77,274.55L424.43,273.58L425.09,272.69L425.75,271.89L426.41,271.15L427.07,270.48L427.73,269.87L428.40,269.31L429.06,268.81L429.72,268.36L430.38,267.95L431.04,267.58L431.70,267.25L432.36,266.95L433.02,266.68L433.68,266.44L434.34,266.23L435.00,266.04L435.67,265.87L436.33,265.72L436.99,265.59L437.65,265.48L438.31,265.38L438.97,265.29L439.63,265.22L440.29,265.16L440.95,265.11L441.62,265.07L442.28,265.04L442.94,265.01L443.60,265.00L444.26,264.98L444.92,264.98L445.58,264.98L446.24,264.99L446.90,265.00L447.56,265.01L448.23,265.03L448.89,265.05L449.55,265.07L450.21,265.10L450.87,265.13L451.53,265.16L452.19,265.19L452.85,265.23L453.51,265.26L454.17,265.30L454.84,265.34L455.50,265.38L456.16,265.43L456.82,265.47L457.48,265.51L458.14,265.56L458.80,265.61L459.46,265.65L460.12,265.70L460.78,265.75L461.44,265.80L462.11,265.85L462.77,265.90L463.43,265.95L464.09,266.00L464.75,266.05L465.41,266.10L466.07,266.15L466.73,266.20L467.39,266.25L468.06,266.31L468.72,266.36L469.38,266.41L470.04,266.46L470.70,266.52L471.36,266.57L472.02,266.62L472.68,266.68L473.34,266.73L474.00,266.78L474.67,266.84L475.33,266.89L475.99,266.94L476.65,267.00L477.31,267.05L477.97,267.10L478.63,267.16L479.29,267.21L479.95,267.26L480.61,267.32L481.27,267.37L481.94,267.43L482.60,267.48L483.26,267.53L483.92,267.59L484.58,267.64L485.24,267.70L485.90,267.75L486.56,267.80L487.22,267.86L487.88,267.91L488.55,267.97L489.21,268.02L489.87,268.07L490.53,268.13L491.19,268.18L491.85,268.24L492.51,268.29L493.17,268.34L493.83,268.40L494.50,268.45L495.16,268.51L495.82,268.56L496.48,268.62L497.14,268.67L497.80,268.72L498.46,268.78L499.12,268.83L499.78,268.89L500.44,268.94L501.11,268.99L501.77,269.05L502.43,269.10L503.09,269.16L503.75,269.21L504.41,269.27L505.07,269.32L505.73,269.37L506.39,269.43L507.05,269.48L507.72,269.54L508.38,269.59L509.04,269.64L509.70,269.70L510.36,269.75L511.02,269.81L511.68,269.86L512.34,269.92L513.00,269.97L513.66,270.02L514.33,270.08L514.99,270.13L515.65,270.19L516.31,270.24L516.97,270.29L517.63,270.35L518.29,270.40L518.95,270.46L519.61,270.51L520.27,270.57L520.93,270.62L521.60,270.67L522.26,270.73L522.92,270.78L523.58,270.84L524.24,270.89L524.90,270.94L525.56,271.00L526.22,271.05L526.88,271.11L527.54,271.16L528.21,271.22L528.87,271.27L529.53,271.32L530.19,271.38L530.85,271.43L531.51,271.49L532.17,271.54L532.83,271.59L533.49,271.65L534.15,271.70L534.82,271.76L535.48,271.81L536.14,271.87L536.80,271.92L537.46,271.97L538.12,272.03L538.78,272.08L539.44,272.14L540.10,272.19L540.76,272.24L541.43,272.30L542.09,272.35L542.75,272.41L543.41,272.46L544.07,272.52L544.73,272.57L545.39,272.62L546.05,272.68L546.71,272.73L547.38,272.79L548.04,272.84L548.70,272.89L549.36,272.95L550.02,273.00L550.68,273.06L551.34,273.11L552.00,273.17L552.66,273.22L553.32,273.27L553.99,273.33L554.65,273.38L555.31,273.44L555.97,273.49L556.63,273.54L557.29,273.60L557.95,273.65L558.61,273.71L559.27,273.76L559.93,273.82L560.60,273.87L561.26,273.92L561.92,273.98L562.58,274.03L563.24,274.09L563.90,274.14L564.56,274.19L565.22,274.25L565.88,274.30L566.54,274.36L567.20,274.41L567.87,274.47L568.53,274.52L569.19,274.57L569.85,274.63L570.51,274.68L571.17,274.74L571.83,274.79L572.49,274.84L573.15,274.90L573.82,274.95L574.48,275.01L575.14,275.06L575.80,275.12L576.46,275.17L577.12,275.22L577.78,275.28L578.44,275.33L579.10,275.39L579.76,275.44L580.42,275.49L581.09,275.55L581.75,275.60L582.41,275.66L583.07,275.71L583.73,275.77L584.39,275.82L585.05,275.87L585.71,275.93L586.37,275.98L587.04,276.04L587.70,276.09L588.36,276.14L589.02,276.20L589.68,276.25L590.34,276.31L591.00,276.36L591.66,276.42L592.32,276.47L592.98,276.52L593.64,276.58L594.31,276.63L594.97,276.69L595.63,276.74L596.29,276.79L596.95,276.85L597.61,276.90L598.27,276.96L598.93,277.01L599.59,277.07L600.25,277.12L600.92,277.17L601.58,277.23L602.24,277.28L602.90,277.34L603.56,277.39L604.22,277.44L604.88,277.50L605.54,277.55L606.20,277.61L606.87,277.66L607.53,277.72L608.19,277.77L608.85,277.82L609.51,277.88L610.17,277.93L610.83,277.99L611.49,278.04L612.15,278.09L612.81,278.15L613.47,278.20L614.14,278.26L614.80,278.31L615.46,278.37L616.12,278.42L616.78,278.47L617.44,278.53L618.10,278.58L618.76,278.64L619.42,278.69L620.09,278.74L620.75,278.80L621.41,278.85L622.07,278.91L622.73,278.96L623.39,279.02L624.05,279.07L624.71,279.12L625.37,279.18L626.03,279.23L626.69,279.29L627.36,279.34L628.02,279.39L628.68,279.45L629.34,279.50L630.00,279.56" fill="none" stroke="#dfbd74" stroke-width="2.30" stroke-dasharray="4.6,5.0" stroke-dashoffset="-3.00" stroke-linejoin="round"/>
</g>
<rect x="203.60" y="89.10" width="122.20" height="49.40" fill="#fff" stroke="#bcbcbc" stroke-width="1"/>
<line x1="204.50" y1="98.20" x2="238.00" y2="98.20" stroke="#4ee64e" stroke-width="2.30"/>
<text transform="translate(244.80,102.93) scale(1.065,1)" font-family="Liberation Sans" font-size="13.20" font-weight="normal" fill="#363636" stroke="#363636" stroke-width="0.45">r = 0.5 nm</text>
<line x1="204.50" y1="113.80" x2="238.00" y2="113.80" stroke="#d858d8" stroke-width="2.30" stroke-dasharray="10.5,11"/>
<text transform="translate(244.80,118.53) scale(1.065,1)" font-family="Liberation Sans" font-size="13.20" font-weight="normal" fill="#363636" stroke="#363636" stroke-width="0.45">r = 0.505 nm</text>
<line x1="204.50" y1="129.30" x2="238.00" y2="129.30" stroke="#dfbd74" stroke-width="2.30" stroke-dasharray="4.8,4.8"/>
<text transform="translate(244.80,134.03) scale(1.065,1)" font-family="Liberation Sans" font-size="13.20" font-weight="normal" fill="#363636" stroke="#363636" stroke-width="0.45">r = 0.51 nm</text>
<rect x="500.20" y="81.40" width="120.00" height="48.60" fill="#fff" stroke="#bcbcbc" stroke-width="1"/>
<line x1="502.30" y1="90.20" x2="535.00" y2="90.20" stroke="#4ee64e" stroke-width="2.30"/>
<text transform="translate(541.50,94.93) scale(1.065,1)" font-family="Liberation Sans" font-size="13.20" font-weight="normal" fill="#363636" stroke="#363636" stroke-width="0.45">R = 20 nm</text>
<line x1="502.30" y1="106.00" x2="535.00" y2="106.00" stroke="#d858d8" stroke-width="2.30" stroke-dasharray="10.5,11"/>
<text transform="translate(541.50,110.73) scale(1.065,1)" font-family="Liberation Sans" font-size="13.20" font-weight="normal" fill="#363636" stroke="#363636" stroke-width="0.45">R = 20.1 nm</text>
<line x1="502.30" y1="121.10" x2="535.00" y2="121.10" stroke="#dfbd74" stroke-width="2.30" stroke-dasharray="4.8,4.8"/>
<text transform="translate(541.50,125.83) scale(1.065,1)" font-family="Liberation Sans" font-size="13.20" font-weight="normal" fill="#363636" stroke="#363636" stroke-width="0.45">R = 20.2 nm</text>
<rect x="227.90" y="382.60" width="99.80" height="53.60" fill="#fff" stroke="#bcbcbc" stroke-width="1"/>
<line x1="229.60" y1="392.80" x2="262.60" y2="392.80" stroke="#4ee64e" stroke-width="2.30"/>
<text transform="translate(269.50,397.53) scale(1.065,1)" font-family="Liberation Sans" font-size="13.20" font-weight="normal" fill="#363636" stroke="#363636" stroke-width="0.45"><tspan font-family="Liberation Serif" stroke-width="0.25" font-size="13">τ = </tspan>6 ps</text>
<line x1="229.60" y1="410.30" x2="262.60" y2="410.30" stroke="#d858d8" stroke-width="2.30" stroke-dasharray="10.5,11"/>
<text transform="translate(269.50,415.03) scale(1.065,1)" font-family="Liberation Sans" font-size="13.20" font-weight="normal" fill="#363636" stroke="#363636" stroke-width="0.45"><tspan font-family="Liberation Serif" stroke-width="0.25" font-size="13">τ = </tspan>8 ps</text>
<line x1="229.60" y1="427.50" x2="262.60" y2="427.50" stroke="#dfbd74" stroke-width="2.30" stroke-dasharray="4.8,4.8"/>
<text transform="translate(269.50,432.23) scale(1.065,1)" font-family="Liberation Sans" font-size="13.20" font-weight="normal" fill="#363636" stroke="#363636" stroke-width="0.45"><tspan font-family="Liberation Serif" stroke-width="0.25" font-size="13">τ = </tspan>10 ps</text>
<rect x="511.20" y="386.60" width="115.90" height="53.40" fill="#fff" stroke="#bcbcbc" stroke-width="1"/>
<line x1="512.70" y1="396.50" x2="545.40" y2="396.50" stroke="#4ee64e" stroke-width="2.30"/>
<text transform="translate(548.00,401.23) scale(1.065,1)" font-family="Liberation Sans" font-size="13.20" font-weight="normal" fill="#363636" stroke="#363636" stroke-width="0.45"><tspan font-family="Liberation Serif" stroke-width="0.25" font-size="13">μ = 0</tspan></text>
<line x1="512.70" y1="413.80" x2="545.40" y2="413.80" stroke="#d858d8" stroke-width="2.30" stroke-dasharray="10.5,11"/>
<text transform="translate(548.00,418.53) scale(1.065,1)" font-family="Liberation Sans" font-size="13.20" font-weight="normal" fill="#363636" stroke="#363636" stroke-width="0.45"><tspan font-family="Liberation Serif" stroke-width="0.25" font-size="13">μ = 80 </tspan>meV</text>
<line x1="512.70" y1="430.60" x2="545.40" y2="430.60" stroke="#dfbd74" stroke-width="2.30" stroke-dasharray="4.8,4.8"/>
<text transform="translate(548.00,435.33) scale(1.065,1)" font-family="Liberation Sans" font-size="13.20" font-weight="normal" fill="#363636" stroke="#363636" stroke-width="0.45"><tspan font-family="Liberation Serif" stroke-width="0.25" font-size="13">μ = 100 </tspan>meV</text>
<text transform="translate(206.30,480.30) scale(1.200,1)" text-anchor="middle" font-family="Liberation Sans" font-size="15.20" fill="#363636" stroke="#363636" stroke-width="0.45">h<tspan font-family="Liberation Serif">ω</tspan> (eV)</text>
<text transform="translate(494.50,479.30) scale(1.200,1)" text-anchor="middle" font-family="Liberation Sans" font-size="15.20" fill="#363636" stroke="#363636" stroke-width="0.45">h<tspan font-family="Liberation Serif">ω</tspan> (eV)</text>
<g transform="translate(0.00,0.00)">
<text transform="translate(23.48,173.30) scale(1.100,1) rotate(-90)" font-family="Liberation Serif" font-size="15.50" fill="#363636" stroke="#363636" stroke-width="0.45">χ</text>
<text transform="translate(15.34,164.60) scale(1.100,1) rotate(-90)" font-family="Liberation Serif" font-size="10.50" fill="#363636" stroke="#363636" stroke-width="0.45">(1)</text>
<text transform="translate(28.54,164.80) scale(1.100,1) rotate(-90)" font-family="Liberation Serif" font-size="9.20" fill="#363636" stroke="#363636" stroke-width="0.45">φ<tspan font-size="6.5" dy="1.2">0</tspan><tspan dy="-1.2">φ</tspan><tspan font-size="6.5" dy="1.2">1</tspan></text>
<text transform="translate(23.10,148.30) scale(1.000,1) rotate(-90)" font-family="Liberation Serif" font-size="15.00" fill="#363636" stroke="#363636" stroke-width="0.45">(</text>
<text transform="translate(22.93,142.90) scale(1.100,1) rotate(-90)" font-family="Liberation Serif" font-size="15.50" fill="#363636" stroke="#363636" stroke-width="0.45">ω</text>
<text transform="translate(23.10,131.60) scale(1.000,1) rotate(-90)" font-family="Liberation Serif" font-size="15.00" fill="#363636" stroke="#363636" stroke-width="0.45">)</text>
<text transform="translate(22.60,125.80) scale(1.000,1) rotate(-90)" font-family="Liberation Sans" font-size="15.00" fill="#363636" stroke="#363636" stroke-width="0.45">(</text>
<text transform="translate(22.60,122.00) scale(1.100,1) rotate(-90)" font-family="Liberation Sans" font-size="15.00" fill="#363636" stroke="#363636" stroke-width="0.45">m</text>
<text transform="translate(14.68,108.30) scale(1.100,1) rotate(-90)" font-family="Liberation Sans" font-size="11.00" fill="#363636" stroke="#363636" stroke-width="0.45">2</text>
<text transform="translate(22.60,102.20) scale(1.000,1) rotate(-90)" font-family="Liberation Sans" font-size="15.00" fill="#363636" stroke="#363636" stroke-width="0.45">/</text>
<text transform="translate(22.60,98.00) scale(1.100,1) rotate(-90)" font-family="Liberation Sans" font-size="15.00" fill="#363636" stroke="#363636" stroke-width="0.45">V</text>
<text transform="translate(14.68,85.80) scale(1.100,1) rotate(-90)" font-family="Liberation Sans" font-size="11.00" fill="#363636" stroke="#363636" stroke-width="0.45">2</text>
<text transform="translate(22.60,79.60) scale(1.000,1) rotate(-90)" font-family="Liberation Sans" font-size="15.00" fill="#363636" stroke="#363636" stroke-width="0.45">)</text>
</g>
<g transform="translate(7.00,213.30)">
<text transform="translate(23.48,173.30) scale(1.100,1) rotate(-90)" font-family="Liberation Serif" font-size="15.50" fill="#363636" stroke="#363636" stroke-width="0.45">χ</text>
<text transform="translate(15.34,164.60) scale(1.100,1) rotate(-90)" font-family="Liberation Serif" font-size="10.50" fill="#363636" stroke="#363636" stroke-width="0.45">(1)</text>
<text transform="translate(28.54,164.80) scale(1.100,1) rotate(-90)" font-family="Liberation Serif" font-size="9.20" fill="#363636" stroke="#363636" stroke-width="0.45">φ<tspan font-size="6.5" dy="1.2">0</tspan><tspan dy="-1.2">φ</tspan><tspan font-size="6.5" dy="1.2">1</tspan></text>
<text transform="translate(23.10,148.30) scale(1.000,1) rotate(-90)" font-family="Liberation Serif" font-size="15.00" fill="#363636" stroke="#363636" stroke-width="0.45">(</text>
<text transform="translate(22.93,142.90) scale(1.100,1) rotate(-90)" font-family="Liberation Serif" font-size="15.50" fill="#363636" stroke="#363636" stroke-width="0.45">ω</text>
<text transform="translate(23.10,131.60) scale(1.000,1) rotate(-90)" font-family="Liberation Serif" font-size="15.00" fill="#363636" stroke="#363636" stroke-width="0.45">)</text>
<text transform="translate(22.60,125.80) scale(1.000,1) rotate(-90)" font-family="Liberation Sans" font-size="15.00" fill="#363636" stroke="#363636" stroke-width="0.45">(</text>
<text transform="translate(22.60,122.00) scale(1.100,1) rotate(-90)" font-family="Liberation Sans" font-size="15.00" fill="#363636" stroke="#363636" stroke-width="0.45">m</text>
<text transform="translate(14.68,108.30) scale(1.100,1) rotate(-90)" font-family="Liberation Sans" font-size="11.00" fill="#363636" stroke="#363636" stroke-width="0.45">2</text>
<text transform="translate(22.60,102.20) scale(1.000,1) rotate(-90)" font-family="Liberation Sans" font-size="15.00" fill="#363636" stroke="#363636" stroke-width="0.45">/</text>
<text transform="translate(22.60,98.00) scale(1.100,1) rotate(-90)" font-family="Liberation Sans" font-size="15.00" fill="#363636" stroke="#363636" stroke-width="0.45">V</text>
<text transform="translate(14.68,85.80) scale(1.100,1) rotate(-90)" font-family="Liberation Sans" font-size="11.00" fill="#363636" stroke="#363636" stroke-width="0.45">2</text>
<text transform="translate(22.60,79.60) scale(1.000,1) rotate(-90)" font-family="Liberation Sans" font-size="15.00" fill="#363636" stroke="#363636" stroke-width="0.45">)</text>
</g>
</g>
</svg>
</body></html>
